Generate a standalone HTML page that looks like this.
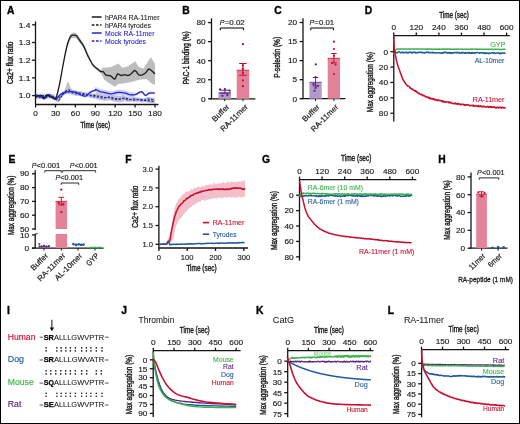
<!DOCTYPE html>
<html><head><meta charset="utf-8"><style>
html,body{margin:0;padding:0;background:#fff;}
svg{display:block;will-change:transform;}
text{font-family:"Liberation Sans", sans-serif;}
</style></head><body>
<svg width="520" height="424" viewBox="0 0 520 424">
<rect x="0" y="0" width="520" height="424" fill="#fff"/>
<text x="6.9" y="13.8" font-size="10.3" fill="#000" font-weight="bold" stroke="#000" stroke-width="0.35">A</text>
<polygon points="35.5,95.4 38,94.4 41,93.9 44,95.9 47,93.4 50,94.9 53,96.2 55.8,96.4 57.5,91.4 60,80.4 62.5,66.4 65,53.4 67.5,41.4 70,34.9 72,32.7 74.5,32.6 76.5,33.2 78.2,35.6 80.5,38.9 82.7,41.9 85,46.4 87.2,51.7 90.6,59.4 93,63.4 95,65.4 97.5,67.4 100.6,69.9 103.4,67.2 104.1,67.7 111.2,67 118.3,63.4 122.5,67.7 128.2,66.3 135.3,61.3 138.8,67 143.7,68.4 150.8,57.1 155,64.1 155,84.7 152.2,84 146.6,79 139.5,79.7 132.4,81.8 125.4,83.2 118.3,84 114.8,86.8 104.1,79.7 103.4,77.5 100.6,73.1 97.5,70.6 95,68.6 93,66.6 90.6,62.6 87.2,56.9 85,51.6 82.7,47.1 80.5,44.1 78.2,40.8 76.5,38.4 74.5,37.8 72,37.9 70,40.1 67.5,46.6 65,56.6 62.5,69.6 60,83.6 57.5,94.6 55.8,99.6 53,99.4 50,98.1 47,96.6 44,99.1 41,97.1 38,97.6 35.5,98.6" fill="#bdbdbd" fill-opacity="1.0" stroke="none"/>
<polygon points="35.2,95.7 35.9,95.36 36.91,94.86 38.02,94.4 39,94.2 39.78,94.45 40.49,94.98 41.2,95.5 42,95.7 42.93,95.36 43.94,94.7 44.98,94.04 46,93.7 47,93.85 48,94.29 49,94.81 50,95.2 51,95.33 51.99,95.35 52.99,95.42 54,95.7 55.05,96.45 56.12,97.51 57.16,98.44 58.1,98.8 58.91,98.38 59.62,97.44 60.3,96.29 61,95.2 61.72,94.21 62.44,93.17 63.19,92.11 64,90.96 64.91,89.32 65.89,86.63 66.87,83.38 67.8,81.45 68.62,81.91 69.39,83.91 70.16,86.3 71,88.19 71.92,89.2 72.89,89.67 73.91,89.95 75,90.2 76.18,90.45 77.44,90.7 78.73,90.95 80,91.2 81.25,91.45 82.5,91.7 83.75,91.95 85,92.2 86.25,92.46 87.5,92.73 88.75,92.99 90,93.2 91.25,93.35 92.5,93.45 93.75,93.55 95,93.7 96.25,92.41 97.5,92.67 98.75,92.94 100,93.2 101.25,93.49 102.5,93.79 103.75,94.06 105,94.2 106.25,94.13 107.5,93.92 108.75,93.72 110,93.7 111.25,93.96 112.5,94.39 113.75,94.85 115,95.2 116.25,95.43 117.5,95.61 118.75,95.7 120,95.7 121.25,95.5 122.5,95.14 123.75,94.81 125,96.2 126.25,96.42 127.5,96.86 128.75,97.34 130,97.7 131.25,97.92 132.5,98.08 133.75,98.17 135,98.2 136.25,98.11 137.5,97.92 138.75,97.74 140,97.7 141.25,97.86 142.5,98.14 143.75,98.45 145,98.7 146.25,98.86 147.51,98.98 148.76,99.09 150,99.2 151.33,99.34 152.71,99.48 153.94,99.61 154.8,99.7 154.8,103.3 153.94,103.21 152.71,103.08 151.33,102.94 150,102.8 148.76,102.69 147.51,102.58 146.25,102.46 145,102.3 143.75,102.05 142.5,101.74 141.25,101.46 140,101.3 138.75,101.34 137.5,101.52 136.25,101.71 135,101.8 133.75,101.77 132.5,101.67 131.25,101.52 130,101.3 128.75,100.94 127.5,100.46 126.25,100.02 125,99.8 123.75,101.41 122.5,101.74 121.25,102.1 120,102.3 118.75,102.3 117.5,102.21 116.25,102.03 115,101.8 113.75,101.45 112.5,100.99 111.25,100.56 110,100.3 108.75,100.32 107.5,100.52 106.25,100.73 105,100.8 103.75,100.66 102.5,100.39 101.25,100.09 100,99.8 98.75,99.54 97.5,99.27 96.25,99.01 95,97.3 93.75,97.15 92.5,97.05 91.25,96.95 90,96.8 88.75,96.59 87.5,96.33 86.25,96.06 85,95.8 83.75,95.55 82.5,95.3 81.25,95.05 80,94.8 78.73,94.55 77.44,94.3 76.18,94.05 75,93.8 73.91,93.56 72.89,93.32 71.92,93.07 71,92.8 70.16,92.39 69.39,91.88 68.62,91.51 67.8,91.5 66.87,91.99 65.89,92.82 64.91,93.82 64,94.8 63.19,95.76 62.44,96.78 61.72,97.81 61,98.8 60.3,99.89 59.62,101.04 58.91,101.98 58.1,102.4 57.16,102.04 56.12,101.11 55.05,100.05 54,99.3 52.99,99.02 51.99,98.95 51,98.93 50,98.8 49,98.41 48,97.89 47,97.45 46,97.3 44.98,97.64 43.94,98.3 42.93,98.96 42,99.3 41.2,99.1 40.49,98.58 39.78,98.05 39,97.8 38.02,98 36.91,98.46 35.9,98.96 35.2,99.3" fill="#c4c4c4" fill-opacity="1.0" stroke="none"/>
<polygon points="35.2,94 35.88,94.35 36.85,94.88 37.95,95.34 39,95.5 39.99,95.16 40.99,94.5 42,93.84 43,93.5 44,93.7 45,94.22 46,94.75 47,95 48,94.75 49,94.22 50,93.7 51,93.5 52.02,93.78 53.06,94.34 54.07,94.99 55,95.5 55.8,95.93 56.5,96.34 57.2,96.59 58,96.5 58.93,95.92 59.94,94.97 60.98,93.91 62,93 63,92.26 64,91.56 65,90.96 66,90.5 67,90.19 68,90 69,89.94 70,90 71,90.26 72,90.69 73,91.15 74,91.5 74.98,91.7 75.94,91.81 76.93,91.9 78,92 79.18,92.12 80.44,92.25 81.73,92.38 83,92.5 84.25,92.6 85.5,92.69 86.75,92.8 88,93 89.25,93.33 90.5,93.75 91.75,94.17 93,94.5 94.25,94.68 95.5,94.78 96.75,94.86 98,95 99.25,95.25 100.5,95.56 101.75,95.84 103,96 104.25,95.93 105.5,95.72 106.75,95.52 108,95.5 109.25,95.76 110.5,96.19 111.75,96.65 113,97 114.25,97.23 115.5,97.41 116.75,97.5 118,97.5 119.25,97.3 120.5,96.94 121.75,96.61 123,96.5 124.25,96.76 125.5,97.25 126.75,97.74 128,98 129.25,97.89 130.5,97.56 131.75,97.2 133,97 134.25,97.01 135.5,97.12 136.75,97.3 138,97.5 139.25,97.77 140.5,98.12 141.75,98.41 143,98.5 144.21,98.24 145.39,97.75 146.62,97.26 148,97 149.73,97.1 151.71,97.41 153.54,97.76 154.8,98 154.8,102 153.54,101.76 151.71,101.41 149.73,101.1 148,101 146.62,101.26 145.39,101.75 144.21,102.24 143,102.5 141.75,102.41 140.5,102.12 139.25,101.77 138,101.5 136.75,101.3 135.5,101.12 134.25,101.01 133,101 131.75,101.2 130.5,101.56 129.25,101.89 128,102 126.75,101.74 125.5,101.25 124.25,100.76 123,100.5 121.75,100.61 120.5,100.94 119.25,101.3 118,101.5 116.75,101.5 115.5,101.41 114.25,101.23 113,101 111.75,100.65 110.5,100.19 109.25,99.76 108,99.5 106.75,99.52 105.5,99.72 104.25,99.93 103,100 101.75,99.84 100.5,99.56 99.25,99.25 98,99 96.75,98.86 95.5,98.78 94.25,98.68 93,98.5 91.75,98.17 90.5,97.75 89.25,97.33 88,97 86.75,96.8 85.5,96.69 84.25,96.6 83,96.5 81.73,96.38 80.44,96.25 79.18,96.12 78,96 76.93,95.9 75.94,95.81 74.98,95.7 74,95.5 73,95.15 72,94.69 71,94.26 70,94 69,93.94 68,94 67,94.19 66,94.5 65,94.96 64,95.56 63,96.26 62,97 60.98,97.91 59.94,98.97 58.93,99.92 58,100.5 57.2,100.59 56.5,100.34 55.8,99.93 55,99.5 54.07,98.99 53.06,98.34 52.02,97.78 51,97.5 50,97.7 49,98.22 48,98.75 47,99 46,98.75 45,98.22 44,97.7 43,97.5 42,97.84 40.99,98.5 39.99,99.16 39,99.5 37.95,99.34 36.85,98.88 35.88,98.35 35.2,98" fill="#bcbcf2" fill-opacity="0.9" stroke="none"/>
<polygon points="35.2,93.6 35.7,93.71 36.41,93.86 37.22,94.05 38,94.3 38.72,94.61 39.45,94.99 40.2,95.39 41,95.8 41.85,96.34 42.74,96.99 43.66,97.46 44.6,97.5 45.59,96.8 46.62,95.58 47.62,94.35 48.5,93.6 49.19,93.49 49.75,93.75 50.31,94.23 51,94.8 51.9,95.61 52.91,96.67 53.95,97.62 54.9,98.1 55.73,97.94 56.51,97.34 57.25,96.56 58,95.8 58.73,95.07 59.43,94.27 60.17,93.48 61,92.8 61.91,92.24 62.88,91.75 63.96,91.34 65.2,91 66.7,90.72 68.39,90.51 70.12,90.39 71.7,90.4 73.09,90.57 74.39,90.88 75.62,91.27 76.8,91.7 77.9,92.19 78.92,92.76 79.93,93.33 81,93.8 82.17,94.26 83.4,94.71 84.63,94.99 85.8,94.9 86.88,94.27 87.89,93.25 88.91,92.12 90,91.2 91.27,90.53 92.66,89.96 93.95,89.49 94.9,89.1 95.31,87.26 95.34,86.99 95.35,86.85 95.7,86.9 96.53,87.24 97.64,87.81 98.86,88.42 100,88.9 100.97,89.17 101.87,89.34 102.87,89.49 104.1,89.7 105.66,90.07 107.46,90.54 109.35,90.93 111.2,91.1 112.98,90.9 114.75,90.44 116.53,89.97 118.3,89.7 120.14,89.71 122.03,89.87 123.83,90.12 125.4,90.4 126.62,90.75 127.59,91.19 128.51,91.61 129.6,91.9 130.91,92.07 132.32,92.17 133.8,92.14 135.3,93.4 136.9,92.73 138.58,91.72 140.2,90.84 141.6,90.5 142.68,91.08 143.53,92.26 144.32,93.46 145.2,94.1 146.18,93.91 147.19,93.22 148.25,92.43 149.4,91.9 150.79,91.75 152.36,91.76 153.8,91.85 154.8,91.9 154.8,94.3 153.8,94.25 152.36,94.16 150.79,94.15 149.4,94.3 148.25,94.83 147.19,95.62 146.18,96.31 145.2,96.5 144.32,95.86 143.53,94.66 142.68,93.48 141.6,92.9 140.2,93.24 138.58,94.12 136.9,95.13 135.3,95.8 133.8,97.54 132.32,97.57 130.91,97.47 129.6,97.3 128.51,97.01 127.59,96.59 126.62,96.15 125.4,95.8 123.83,95.52 122.03,95.27 120.14,95.11 118.3,95.1 116.53,95.37 114.75,95.84 112.98,96.3 111.2,96.5 109.35,96.33 107.46,95.94 105.66,95.47 104.1,95.1 102.87,94.89 101.87,94.74 100.97,94.57 100,94.3 98.86,93.82 97.64,93.21 96.53,92.64 95.7,92.3 95.35,92.25 95.34,92.39 95.31,92.66 94.9,91.5 93.95,91.89 92.66,92.36 91.27,92.93 90,93.6 88.91,94.52 87.89,95.65 86.88,96.67 85.8,97.3 84.63,97.39 83.4,97.11 82.17,96.66 81,96.2 79.93,95.73 78.92,95.16 77.9,94.59 76.8,94.1 75.62,93.67 74.39,93.28 73.09,92.97 71.7,92.8 70.12,92.79 68.39,92.91 66.7,93.12 65.2,93.4 63.96,93.74 62.88,94.15 61.91,94.64 61,95.2 60.17,95.88 59.43,96.67 58.73,97.47 58,98.2 57.25,98.96 56.51,99.74 55.73,100.34 54.9,100.5 53.95,100.02 52.91,99.07 51.9,98.01 51,97.2 50.31,96.63 49.75,96.15 49.19,95.89 48.5,96 47.62,96.75 46.62,97.98 45.59,99.2 44.6,99.9 43.66,99.86 42.74,99.39 41.85,98.74 41,98.2 40.2,97.79 39.45,97.39 38.72,97.01 38,96.7 37.22,96.45 36.41,96.26 35.7,96.11 35.2,96" fill="#c4c4f4" fill-opacity="0.8" stroke="none"/>
<polyline points="35.2,97.5 35.9,97.16 36.91,96.66 38.02,96.2 39,96 39.78,96.25 40.49,96.78 41.2,97.3 42,97.5 42.93,97.16 43.94,96.5 44.98,95.84 46,95.5 47,95.65 48,96.09 49,96.61 50,97 51,97.13 51.99,97.15 52.99,97.22 54,97.5 55.05,98.25 56.12,99.31 57.16,100.24 58.1,100.6 58.91,100.18 59.62,99.24 60.3,98.09 61,97 61.72,96.01 62.44,94.98 63.19,93.96 64,93 64.91,92.02 65.89,91.02 66.87,90.19 67.8,89.7 68.62,89.71 69.39,90.08 70.16,90.59 71,91 71.92,91.27 72.89,91.52 73.91,91.76 75,92 76.18,92.25 77.44,92.5 78.73,92.75 80,93 81.25,93.25 82.5,93.5 83.75,93.75 85,94 86.25,94.26 87.5,94.53 88.75,94.79 90,95 91.25,95.15 92.5,95.25 93.75,95.35 95,95.5 96.25,95.71 97.5,95.97 98.75,96.24 100,96.5 101.25,96.79 102.5,97.09 103.75,97.36 105,97.5 106.25,97.43 107.5,97.22 108.75,97.02 110,97 111.25,97.26 112.5,97.69 113.75,98.15 115,98.5 116.25,98.73 117.5,98.91 118.75,99 120,99 121.25,98.8 122.5,98.44 123.75,98.11 125,98 126.25,98.22 127.5,98.66 128.75,99.14 130,99.5 131.25,99.72 132.5,99.88 133.75,99.97 135,100 136.25,99.91 137.5,99.72 138.75,99.54 140,99.5 141.25,99.66 142.5,99.94 143.75,100.25 145,100.5 146.25,100.66 147.51,100.78 148.76,100.89 150,101 151.33,101.14 152.71,101.28 153.94,101.41 154.8,101.5" fill="none" stroke="#222" stroke-width="1.1" stroke-linejoin="round" stroke-dasharray="2.2,1.5"/>
<polyline points="35.2,96 35.88,96.35 36.85,96.88 37.95,97.34 39,97.5 39.99,97.16 40.99,96.5 42,95.84 43,95.5 44,95.7 45,96.22 46,96.75 47,97 48,96.75 49,96.22 50,95.7 51,95.5 52.02,95.78 53.06,96.34 54.07,96.99 55,97.5 55.8,97.93 56.5,98.34 57.2,98.59 58,98.5 58.93,97.92 59.94,96.97 60.98,95.91 62,95 63,94.26 64,93.56 65,92.96 66,92.5 67,92.19 68,92 69,91.94 70,92 71,92.26 72,92.69 73,93.15 74,93.5 74.98,93.7 75.94,93.81 76.93,93.9 78,94 79.18,94.12 80.44,94.25 81.73,94.38 83,94.5 84.25,94.6 85.5,94.69 86.75,94.8 88,95 89.25,95.33 90.5,95.75 91.75,96.17 93,96.5 94.25,96.68 95.5,96.78 96.75,96.86 98,97 99.25,97.25 100.5,97.56 101.75,97.84 103,98 104.25,97.93 105.5,97.72 106.75,97.52 108,97.5 109.25,97.76 110.5,98.19 111.75,98.65 113,99 114.25,99.23 115.5,99.41 116.75,99.5 118,99.5 119.25,99.3 120.5,98.94 121.75,98.61 123,98.5 124.25,98.76 125.5,99.25 126.75,99.74 128,100 129.25,99.89 130.5,99.56 131.75,99.2 133,99 134.25,99.01 135.5,99.12 136.75,99.3 138,99.5 139.25,99.77 140.5,100.12 141.75,100.41 143,100.5 144.21,100.24 145.39,99.75 146.62,99.26 148,99 149.73,99.1 151.71,99.41 153.54,99.76 154.8,100" fill="none" stroke="#2323d0" stroke-width="1.1" stroke-linejoin="round" stroke-dasharray="2.2,1.5"/>
<polyline points="35.2,94.8 35.7,94.91 36.41,95.06 37.22,95.25 38,95.5 38.72,95.81 39.45,96.19 40.2,96.59 41,97 41.85,97.54 42.74,98.19 43.66,98.66 44.6,98.7 45.59,98 46.62,96.78 47.62,95.55 48.5,94.8 49.19,94.69 49.75,94.95 50.31,95.43 51,96 51.9,96.81 52.91,97.87 53.95,98.82 54.9,99.3 55.73,99.14 56.51,98.54 57.25,97.76 58,97 58.73,96.27 59.43,95.47 60.17,94.68 61,94 61.91,93.44 62.88,92.95 63.96,92.54 65.2,92.2 66.7,91.92 68.39,91.71 70.12,91.59 71.7,91.6 73.09,91.77 74.39,92.08 75.62,92.47 76.8,92.9 77.9,93.39 78.92,93.96 79.93,94.53 81,95 82.17,95.46 83.4,95.91 84.63,96.19 85.8,96.1 86.88,95.47 87.89,94.45 88.91,93.32 90,92.4 91.27,91.73 92.66,91.16 93.95,90.69 94.9,90.3 95.31,89.96 95.34,89.69 95.35,89.55 95.7,89.6 96.53,89.94 97.64,90.51 98.86,91.12 100,91.6 100.97,91.87 101.87,92.04 102.87,92.19 104.1,92.4 105.66,92.77 107.46,93.24 109.35,93.63 111.2,93.8 112.98,93.6 114.75,93.14 116.53,92.67 118.3,92.4 120.14,92.41 122.03,92.57 123.83,92.82 125.4,93.1 126.62,93.45 127.59,93.89 128.51,94.31 129.6,94.6 130.91,94.77 132.32,94.87 133.8,94.84 135.3,94.6 136.9,93.93 138.58,92.92 140.2,92.04 141.6,91.7 142.68,92.28 143.53,93.46 144.32,94.66 145.2,95.3 146.18,95.11 147.19,94.42 148.25,93.63 149.4,93.1 150.79,92.95 152.36,92.96 153.8,93.05 154.8,93.1" fill="none" stroke="#2323d0" stroke-width="1.3" stroke-linejoin="round"/>
<polyline points="35.5,97 35.94,96.81 36.56,96.53 37.28,96.24 38,96 38.71,95.78 39.47,95.56 40.24,95.44 41,95.5 41.75,95.93 42.5,96.62 43.25,97.26 44,97.5 44.75,97.1 45.5,96.28 46.25,95.45 47,95 47.75,95.1 48.5,95.51 49.25,96.05 50,96.5 50.75,96.86 51.51,97.23 52.26,97.56 53,97.8 53.74,98.05 54.48,98.29 55.18,98.34 55.8,98 56.28,97.26 56.67,96.2 57.04,94.79 57.5,93 58.07,90.74 58.7,88.06 59.36,85.1 60,82 60.62,78.69 61.25,75.12 61.88,71.5 62.5,68 63.12,64.63 63.75,61.31 64.38,58.09 65,55 65.62,52 66.25,49.09 66.88,46.39 67.5,44 68.14,41.96 68.78,40.2 69.41,38.72 70,37.5 70.52,36.6 71,36 71.48,35.6 72,35.3 72.6,35.11 73.25,35.07 73.9,35.13 74.5,35.2 75.04,35.26 75.55,35.34 76.03,35.51 76.5,35.8 76.93,36.25 77.33,36.83 77.74,37.49 78.2,38.2 78.74,38.97 79.32,39.81 79.92,40.68 80.5,41.5 81.05,42.24 81.6,42.92 82.15,43.65 82.7,44.5 83.27,45.5 83.85,46.61 84.43,47.78 85,49 85.53,50.24 86.03,51.51 86.57,52.86 87.2,54.3 87.99,55.94 88.89,57.73 89.79,59.48 90.6,61 91.28,62.24 91.89,63.29 92.45,64.2 93,65 93.52,65.64 93.99,66.12 94.47,66.55 95,67 95.58,67.49 96.18,67.97 96.82,68.46 97.5,69 98.24,69.64 99.03,70.35 99.83,71.01 100.6,71.5 101.34,71.69 102.06,71.67 102.75,71.67 103.4,71.9 103.98,72.5 104.5,73.33 105.02,74.17 105.6,74.8 106.26,75.13 106.96,75.29 107.69,75.38 108.4,75.5 109.08,75.63 109.75,75.72 110.44,75.88 111.2,76.2 112.06,76.94 113,77.96 113.94,78.8 114.8,79 115.54,78.15 116.21,76.58 116.87,74.98 117.6,74 118.42,73.97 119.3,74.48 120.2,75.13 121.1,75.5 122,75.45 122.9,75.2 123.8,74.93 124.7,74.8 125.58,74.94 126.46,75.24 127.33,75.5 128.2,75.5 129.08,75.17 129.96,74.62 130.84,73.96 131.7,73.3 132.53,72.48 133.33,71.49 134.14,70.71 135,70.5 135.92,71.18 136.89,72.47 137.86,73.86 138.8,74.8 139.69,75.15 140.56,75.21 141.43,75.06 142.3,74.8 143.21,74.44 144.14,73.92 145.05,73.29 145.9,72.6 146.64,71.69 147.31,70.58 147.97,69.61 148.7,69.1 149.54,69.21 150.45,69.76 151.36,70.49 152.2,71.2 153.01,71.92 153.82,72.73 154.51,73.48 155,74" fill="none" stroke="#1a1a1a" stroke-width="1.3" stroke-linejoin="round"/>
<line x1="35.5" y1="21.5" x2="35.5" y2="104.5" stroke="#151515" stroke-width="1.3"/>
<line x1="32.1" y1="24.8" x2="35.5" y2="24.8" stroke="#151515" stroke-width="1.3"/>
<text transform="translate(30.5 27.6) scale(1.12 1)" font-size="7.6" fill="#1a1a1a" text-anchor="end" stroke="#1a1a1a" stroke-width="0.15">1.4</text>
<line x1="32.1" y1="42.5" x2="35.5" y2="42.5" stroke="#151515" stroke-width="1.3"/>
<text transform="translate(30.5 45.3) scale(1.12 1)" font-size="7.6" fill="#1a1a1a" text-anchor="end" stroke="#1a1a1a" stroke-width="0.15">1.3</text>
<line x1="32.1" y1="60.2" x2="35.5" y2="60.2" stroke="#151515" stroke-width="1.3"/>
<text transform="translate(30.5 63) scale(1.12 1)" font-size="7.6" fill="#1a1a1a" text-anchor="end" stroke="#1a1a1a" stroke-width="0.15">1.2</text>
<line x1="32.1" y1="77.9" x2="35.5" y2="77.9" stroke="#151515" stroke-width="1.3"/>
<text transform="translate(30.5 80.7) scale(1.12 1)" font-size="7.6" fill="#1a1a1a" text-anchor="end" stroke="#1a1a1a" stroke-width="0.15">1.1</text>
<line x1="32.1" y1="95.6" x2="35.5" y2="95.6" stroke="#151515" stroke-width="1.3"/>
<text transform="translate(30.5 98.4) scale(1.12 1)" font-size="7.6" fill="#1a1a1a" text-anchor="end" stroke="#1a1a1a" stroke-width="0.15">1.0</text>
<line x1="35.5" y1="104.5" x2="158.5" y2="104.5" stroke="#151515" stroke-width="1.3"/>
<line x1="35.6" y1="104.5" x2="35.6" y2="107.5" stroke="#151515" stroke-width="1.3"/>
<text transform="translate(35.6 116.2) scale(1.1 1)" font-size="7.5" fill="#1a1a1a" text-anchor="middle" stroke="#1a1a1a" stroke-width="0.15">0</text>
<line x1="55.5" y1="104.5" x2="55.5" y2="107.5" stroke="#151515" stroke-width="1.3"/>
<text transform="translate(55.5 116.2) scale(1.1 1)" font-size="7.5" fill="#1a1a1a" text-anchor="middle" stroke="#1a1a1a" stroke-width="0.15">30</text>
<line x1="75.4" y1="104.5" x2="75.4" y2="107.5" stroke="#151515" stroke-width="1.3"/>
<text transform="translate(75.4 116.2) scale(1.1 1)" font-size="7.5" fill="#1a1a1a" text-anchor="middle" stroke="#1a1a1a" stroke-width="0.15">60</text>
<line x1="95.3" y1="104.5" x2="95.3" y2="107.5" stroke="#151515" stroke-width="1.3"/>
<text transform="translate(95.3 116.2) scale(1.1 1)" font-size="7.5" fill="#1a1a1a" text-anchor="middle" stroke="#1a1a1a" stroke-width="0.15">90</text>
<line x1="115.2" y1="104.5" x2="115.2" y2="107.5" stroke="#151515" stroke-width="1.3"/>
<text transform="translate(115.2 116.2) scale(1.1 1)" font-size="7.5" fill="#1a1a1a" text-anchor="middle" stroke="#1a1a1a" stroke-width="0.15">120</text>
<line x1="135.09" y1="104.5" x2="135.09" y2="107.5" stroke="#151515" stroke-width="1.3"/>
<text transform="translate(135.09 116.2) scale(1.1 1)" font-size="7.5" fill="#1a1a1a" text-anchor="middle" stroke="#1a1a1a" stroke-width="0.15">150</text>
<line x1="154.99" y1="104.5" x2="154.99" y2="107.5" stroke="#151515" stroke-width="1.3"/>
<text transform="translate(154.99 116.2) scale(1.1 1)" font-size="7.5" fill="#1a1a1a" text-anchor="middle" stroke="#1a1a1a" stroke-width="0.15">180</text>
<text x="95.2" y="127.7" font-size="8.6" fill="#1a1a1a" text-anchor="middle" stroke="#1a1a1a" stroke-width="0.4" textLength="29.6" lengthAdjust="spacingAndGlyphs">Time (sec)</text>
<text transform="translate(12.9 62.8) rotate(-90)" font-size="8.6" fill="#1a1a1a" text-anchor="middle" stroke="#1a1a1a" stroke-width="0.4" textLength="42.5" lengthAdjust="spacingAndGlyphs">Ca2+ flux ratio</text>
<line x1="91.8" y1="17" x2="101.6" y2="17" stroke="#1a1a1a" stroke-width="1.5"/>
<text x="105" y="19.5" font-size="7.7" fill="#222" stroke="#222" stroke-width="0.1" textLength="54.5" lengthAdjust="spacingAndGlyphs">hPAR4 RA-11mer</text>
<line x1="91.8" y1="25" x2="101.6" y2="25" stroke="#1a1a1a" stroke-width="1.5" stroke-dasharray="2.6,1.6"/>
<text x="105" y="27.5" font-size="7.7" fill="#222" stroke="#222" stroke-width="0.1" textLength="46" lengthAdjust="spacingAndGlyphs">hPAR4 tyrodes</text>
<line x1="91.8" y1="33" x2="101.6" y2="33" stroke="#2323d0" stroke-width="1.5"/>
<text x="105" y="35.5" font-size="7.7" fill="#2323d0" stroke="#2323d0" stroke-width="0.1" textLength="49.5" lengthAdjust="spacingAndGlyphs">Mock RA-11mer</text>
<line x1="91.8" y1="41" x2="101.6" y2="41" stroke="#2323d0" stroke-width="1.5" stroke-dasharray="2.6,1.6"/>
<text x="105" y="43.5" font-size="7.7" fill="#2323d0" stroke="#2323d0" stroke-width="0.1" textLength="41" lengthAdjust="spacingAndGlyphs">Mock tyrodes</text>
<text x="182.3" y="14.4" font-size="10.3" fill="#000" font-weight="bold" stroke="#000" stroke-width="0.35">B</text>
<line x1="211.5" y1="18.3" x2="211.5" y2="98.8" stroke="#151515" stroke-width="1.3"/>
<line x1="208.1" y1="22.6" x2="211.5" y2="22.6" stroke="#151515" stroke-width="1.3"/>
<text transform="translate(205.7 25.4) scale(1.1 1)" font-size="7.5" fill="#1a1a1a" text-anchor="end" stroke="#1a1a1a" stroke-width="0.15">80</text>
<line x1="208.1" y1="41.65" x2="211.5" y2="41.65" stroke="#151515" stroke-width="1.3"/>
<text transform="translate(205.7 44.45) scale(1.1 1)" font-size="7.5" fill="#1a1a1a" text-anchor="end" stroke="#1a1a1a" stroke-width="0.15">60</text>
<line x1="208.1" y1="60.7" x2="211.5" y2="60.7" stroke="#151515" stroke-width="1.3"/>
<text transform="translate(205.7 63.5) scale(1.1 1)" font-size="7.5" fill="#1a1a1a" text-anchor="end" stroke="#1a1a1a" stroke-width="0.15">40</text>
<line x1="208.1" y1="79.75" x2="211.5" y2="79.75" stroke="#151515" stroke-width="1.3"/>
<text transform="translate(205.7 82.55) scale(1.1 1)" font-size="7.5" fill="#1a1a1a" text-anchor="end" stroke="#1a1a1a" stroke-width="0.15">20</text>
<line x1="208.1" y1="98.8" x2="211.5" y2="98.8" stroke="#151515" stroke-width="1.3"/>
<text transform="translate(205.7 101.6) scale(1.1 1)" font-size="7.5" fill="#1a1a1a" text-anchor="end" stroke="#1a1a1a" stroke-width="0.15">0</text>
<line x1="209.6" y1="98.8" x2="255.4" y2="98.8" stroke="#151515" stroke-width="1.2"/>
<line x1="224.7" y1="98.8" x2="224.7" y2="101.2" stroke="#151515" stroke-width="1.0"/>
<line x1="243" y1="98.8" x2="243" y2="101.2" stroke="#151515" stroke-width="1.0"/>
<rect x="218.5" y="92.8" width="12.5" height="6" fill="#b39ac9" stroke="none" stroke-width="0"/>
<line x1="218.5" y1="92.8" x2="231" y2="92.8" stroke="#5e2384" stroke-width="0.8"/>
<rect x="236.7" y="70.22" width="12.5" height="28.58" fill="#e2839a" stroke="none" stroke-width="0"/>
<line x1="236.7" y1="70.22" x2="249.2" y2="70.22" stroke="#c8102e" stroke-width="0.8"/>
<line x1="242.9" y1="63.5" x2="242.9" y2="75.3" stroke="#c8102e" stroke-width="1.0"/>
<line x1="239.15" y1="63.5" x2="246.65" y2="63.5" stroke="#c8102e" stroke-width="1.0"/>
<line x1="239.15" y1="75.3" x2="246.65" y2="75.3" stroke="#c8102e" stroke-width="1.0"/>
<circle cx="242.9" cy="44.2" r="1.15" fill="#c8102e"/>
<circle cx="242.9" cy="65.4" r="1.15" fill="#c8102e"/>
<circle cx="242.9" cy="68.9" r="1.15" fill="#c8102e"/>
<circle cx="242.9" cy="72.9" r="1.15" fill="#c8102e"/>
<circle cx="242.9" cy="80.3" r="1.15" fill="#c8102e"/>
<circle cx="242.9" cy="86.2" r="1.15" fill="#c8102e"/>
<line x1="224.9" y1="90.2" x2="224.9" y2="93.2" stroke="#5e2384" stroke-width="1.0"/>
<line x1="220.15" y1="90.2" x2="229.65" y2="90.2" stroke="#5e2384" stroke-width="1.0"/>
<line x1="220.15" y1="93.2" x2="229.65" y2="93.2" stroke="#5e2384" stroke-width="1.0"/>
<circle cx="220.1" cy="89.5" r="1.15" fill="#5e2384"/>
<circle cx="224.9" cy="89.2" r="1.15" fill="#5e2384"/>
<circle cx="229.6" cy="90.7" r="1.15" fill="#5e2384"/>
<circle cx="222.4" cy="95.8" r="1.15" fill="#5e2384"/>
<circle cx="227.4" cy="95.1" r="1.15" fill="#5e2384"/>
<text x="219.8" y="25" font-size="7.8" fill="#1a1a1a" font-style="italic" stroke="#1a1a1a" stroke-width="0.15" textLength="4.7" lengthAdjust="spacingAndGlyphs">P</text>
<text x="224.7" y="25" font-size="7.8" fill="#1a1a1a" stroke="#1a1a1a" stroke-width="0.15" textLength="20.1" lengthAdjust="spacingAndGlyphs">=0.02</text>
<line x1="220.4" y1="28" x2="243.5" y2="28" stroke="#151515" stroke-width="1.1"/>
<line x1="220.4" y1="28" x2="220.4" y2="30.2" stroke="#151515" stroke-width="1.1"/>
<line x1="243.5" y1="28" x2="243.5" y2="30.2" stroke="#151515" stroke-width="1.1"/>
<text transform="translate(189.1 57.8) rotate(-90)" font-size="8.8" fill="#1a1a1a" text-anchor="middle" stroke="#1a1a1a" stroke-width="0.4" textLength="53" lengthAdjust="spacingAndGlyphs">PAC-1 binding (%)</text>
<text transform="translate(229.9 107.3) rotate(-45)" font-size="7.8" fill="#1a1a1a" text-anchor="end" stroke="#1a1a1a" stroke-width="0.2" textLength="21" lengthAdjust="spacingAndGlyphs">Buffer</text>
<text transform="translate(248.3 107.3) rotate(-45)" font-size="7.8" fill="#1a1a1a" text-anchor="end" stroke="#1a1a1a" stroke-width="0.2" textLength="35" lengthAdjust="spacingAndGlyphs">RA-11mer</text>
<text x="274.2" y="14.4" font-size="10.3" fill="#000" font-weight="bold" stroke="#000" stroke-width="0.35">C</text>
<line x1="303" y1="18.3" x2="303" y2="98.7" stroke="#151515" stroke-width="1.3"/>
<line x1="299.6" y1="22.5" x2="303" y2="22.5" stroke="#151515" stroke-width="1.3"/>
<text transform="translate(297.2 25.3) scale(1.1 1)" font-size="7.5" fill="#1a1a1a" text-anchor="end" stroke="#1a1a1a" stroke-width="0.15">20</text>
<line x1="299.6" y1="41.55" x2="303" y2="41.55" stroke="#151515" stroke-width="1.3"/>
<text transform="translate(297.2 44.35) scale(1.1 1)" font-size="7.5" fill="#1a1a1a" text-anchor="end" stroke="#1a1a1a" stroke-width="0.15">15</text>
<line x1="299.6" y1="60.6" x2="303" y2="60.6" stroke="#151515" stroke-width="1.3"/>
<text transform="translate(297.2 63.4) scale(1.1 1)" font-size="7.5" fill="#1a1a1a" text-anchor="end" stroke="#1a1a1a" stroke-width="0.15">10</text>
<line x1="299.6" y1="79.65" x2="303" y2="79.65" stroke="#151515" stroke-width="1.3"/>
<text transform="translate(297.2 82.45) scale(1.1 1)" font-size="7.5" fill="#1a1a1a" text-anchor="end" stroke="#1a1a1a" stroke-width="0.15">5</text>
<line x1="299.6" y1="98.7" x2="303" y2="98.7" stroke="#151515" stroke-width="1.3"/>
<text transform="translate(297.2 101.5) scale(1.1 1)" font-size="7.5" fill="#1a1a1a" text-anchor="end" stroke="#1a1a1a" stroke-width="0.15">0</text>
<line x1="301" y1="98.7" x2="345.4" y2="98.7" stroke="#151515" stroke-width="1.2"/>
<line x1="315.6" y1="98.7" x2="315.6" y2="101.1" stroke="#151515" stroke-width="1.0"/>
<line x1="333.9" y1="98.7" x2="333.9" y2="101.1" stroke="#151515" stroke-width="1.0"/>
<rect x="309.4" y="82.32" width="12.3" height="16.38" fill="#b39ac9" stroke="none" stroke-width="0"/>
<line x1="309.4" y1="82.32" x2="321.7" y2="82.32" stroke="#5e2384" stroke-width="0.8"/>
<rect x="327.7" y="58.31" width="12.3" height="40.39" fill="#e2839a" stroke="none" stroke-width="0"/>
<line x1="327.7" y1="58.31" x2="340" y2="58.31" stroke="#c8102e" stroke-width="0.8"/>
<line x1="315.6" y1="77.5" x2="315.6" y2="86" stroke="#5e2384" stroke-width="1.0"/>
<line x1="312.8" y1="77.5" x2="318.4" y2="77.5" stroke="#5e2384" stroke-width="1.0"/>
<line x1="312.8" y1="86" x2="318.4" y2="86" stroke="#5e2384" stroke-width="1.0"/>
<circle cx="315.8" cy="64.4" r="1.1" fill="#5e2384"/>
<circle cx="315.6" cy="77" r="1.1" fill="#5e2384"/>
<circle cx="313.5" cy="84.2" r="1.1" fill="#5e2384"/>
<circle cx="318" cy="86" r="1.1" fill="#5e2384"/>
<circle cx="315.6" cy="87.9" r="1.1" fill="#5e2384"/>
<circle cx="314.5" cy="90.8" r="1.1" fill="#5e2384"/>
<line x1="333.9" y1="53.5" x2="333.9" y2="62.9" stroke="#c8102e" stroke-width="1.0"/>
<line x1="331.1" y1="53.5" x2="336.7" y2="53.5" stroke="#c8102e" stroke-width="1.0"/>
<line x1="331.1" y1="62.9" x2="336.7" y2="62.9" stroke="#c8102e" stroke-width="1.0"/>
<circle cx="333.9" cy="41.7" r="1.1" fill="#c8102e"/>
<circle cx="333.9" cy="49" r="1.1" fill="#c8102e"/>
<circle cx="333.9" cy="55.8" r="1.1" fill="#c8102e"/>
<circle cx="332" cy="63" r="1.1" fill="#c8102e"/>
<circle cx="335.5" cy="64.5" r="1.1" fill="#c8102e"/>
<circle cx="333.9" cy="74" r="1.1" fill="#c8102e"/>
<text x="309.4" y="25" font-size="7.8" fill="#1a1a1a" font-style="italic" stroke="#1a1a1a" stroke-width="0.15" textLength="4.7" lengthAdjust="spacingAndGlyphs">P</text>
<text x="314.3" y="25" font-size="7.8" fill="#1a1a1a" stroke="#1a1a1a" stroke-width="0.15" textLength="19.9" lengthAdjust="spacingAndGlyphs">=0.01</text>
<line x1="310.8" y1="28" x2="333.5" y2="28" stroke="#151515" stroke-width="1.1"/>
<line x1="310.8" y1="28" x2="310.8" y2="30.2" stroke="#151515" stroke-width="1.1"/>
<line x1="333.5" y1="28" x2="333.5" y2="30.2" stroke="#151515" stroke-width="1.1"/>
<text transform="translate(280 57.3) rotate(-90)" font-size="8.8" fill="#1a1a1a" text-anchor="middle" stroke="#1a1a1a" stroke-width="0.4" textLength="40.8" lengthAdjust="spacingAndGlyphs">P-selectin (%)</text>
<text transform="translate(320.2 107.5) rotate(-45)" font-size="7.8" fill="#1a1a1a" text-anchor="end" stroke="#1a1a1a" stroke-width="0.2" textLength="21" lengthAdjust="spacingAndGlyphs">Buffer</text>
<text transform="translate(338.8 107.5) rotate(-45)" font-size="7.8" fill="#1a1a1a" text-anchor="end" stroke="#1a1a1a" stroke-width="0.2" textLength="35" lengthAdjust="spacingAndGlyphs">RA-11mer</text>
<text x="364.8" y="14.4" font-size="10.3" fill="#000" font-weight="bold" stroke="#000" stroke-width="0.35">D</text>
<line x1="393.7" y1="35.6" x2="509.8" y2="35.6" stroke="#151515" stroke-width="1.3"/>
<line x1="393.7" y1="32.6" x2="393.7" y2="35.6" stroke="#151515" stroke-width="1.3"/>
<text transform="translate(393.7 30) scale(1.1 1)" font-size="7.5" fill="#1a1a1a" text-anchor="middle" stroke="#1a1a1a" stroke-width="0.15">0</text>
<line x1="416.28" y1="32.6" x2="416.28" y2="35.6" stroke="#151515" stroke-width="1.3"/>
<text transform="translate(416.28 30) scale(1.1 1)" font-size="7.5" fill="#1a1a1a" text-anchor="middle" stroke="#1a1a1a" stroke-width="0.15">120</text>
<line x1="438.86" y1="32.6" x2="438.86" y2="35.6" stroke="#151515" stroke-width="1.3"/>
<text transform="translate(438.86 30) scale(1.1 1)" font-size="7.5" fill="#1a1a1a" text-anchor="middle" stroke="#1a1a1a" stroke-width="0.15">240</text>
<line x1="461.44" y1="32.6" x2="461.44" y2="35.6" stroke="#151515" stroke-width="1.3"/>
<text transform="translate(461.44 30) scale(1.1 1)" font-size="7.5" fill="#1a1a1a" text-anchor="middle" stroke="#1a1a1a" stroke-width="0.15">360</text>
<line x1="484.02" y1="32.6" x2="484.02" y2="35.6" stroke="#151515" stroke-width="1.3"/>
<text transform="translate(484.02 30) scale(1.1 1)" font-size="7.5" fill="#1a1a1a" text-anchor="middle" stroke="#1a1a1a" stroke-width="0.15">480</text>
<line x1="506.6" y1="32.6" x2="506.6" y2="35.6" stroke="#151515" stroke-width="1.3"/>
<text transform="translate(506.6 30) scale(1.1 1)" font-size="7.5" fill="#1a1a1a" text-anchor="middle" stroke="#1a1a1a" stroke-width="0.15">600</text>
<line x1="393.8" y1="35.6" x2="393.8" y2="121.5" stroke="#151515" stroke-width="1.3"/>
<line x1="390.4" y1="51.7" x2="393.8" y2="51.7" stroke="#151515" stroke-width="1.3"/>
<text transform="translate(388 54.5) scale(1.1 1)" font-size="7.5" fill="#1a1a1a" text-anchor="end" stroke="#1a1a1a" stroke-width="0.15">0</text>
<line x1="390.4" y1="67.08" x2="393.8" y2="67.08" stroke="#151515" stroke-width="1.3"/>
<text transform="translate(388 69.88) scale(1.1 1)" font-size="7.5" fill="#1a1a1a" text-anchor="end" stroke="#1a1a1a" stroke-width="0.15">20</text>
<line x1="390.4" y1="82.46" x2="393.8" y2="82.46" stroke="#151515" stroke-width="1.3"/>
<text transform="translate(388 85.26) scale(1.1 1)" font-size="7.5" fill="#1a1a1a" text-anchor="end" stroke="#1a1a1a" stroke-width="0.15">40</text>
<line x1="390.4" y1="97.84" x2="393.8" y2="97.84" stroke="#151515" stroke-width="1.3"/>
<text transform="translate(388 100.64) scale(1.1 1)" font-size="7.5" fill="#1a1a1a" text-anchor="end" stroke="#1a1a1a" stroke-width="0.15">60</text>
<line x1="390.4" y1="113.22" x2="393.8" y2="113.22" stroke="#151515" stroke-width="1.3"/>
<text transform="translate(388 116.02) scale(1.1 1)" font-size="7.5" fill="#1a1a1a" text-anchor="end" stroke="#1a1a1a" stroke-width="0.15">80</text>
<text x="454" y="18.4" font-size="8.6" fill="#1a1a1a" text-anchor="middle" stroke="#1a1a1a" stroke-width="0.4" textLength="29.6" lengthAdjust="spacingAndGlyphs">Time (sec)</text>
<text transform="translate(373.4 82.2) rotate(-90)" font-size="8.8" fill="#1a1a1a" text-anchor="middle" stroke="#1a1a1a" stroke-width="0.4" textLength="60" lengthAdjust="spacingAndGlyphs">Max aggregation (%)</text>
<polyline points="393.8,52.5 394.5,54 395.5,50 397,49 397.5,48.95 398.1,48.9 398.7,49.05 399.3,48.88 399.9,49.02 400.5,48.97 401.1,48.88 401.7,49.02 402.3,48.88 402.9,49 403.5,48.89 404.1,48.9 404.7,49 405.3,49.12 405.9,48.91 406.5,48.95 407.1,49.07 407.7,49.17 408.3,49.06 408.9,49 409.5,49.18 410.1,48.9 410.7,49.15 411.3,48.98 411.9,48.94 412.5,48.93 413.1,48.99 413.7,49.14 414.3,48.96 414.9,49.08 415.5,49.1 416.1,49.02 416.7,49.07 417.3,48.93 417.9,48.93 418.5,48.98 419.1,49.12 419.7,49.05 420.3,49.01 420.9,49.1 421.5,49.06 422.1,49.02 422.7,49.17 423.3,49.14 423.9,49 424.5,49.1 425.1,49.09 425.7,49.2 426.3,49.16 426.9,49.03 427.5,49.24 428.1,48.98 428.7,49.07 429.3,49.17 429.9,48.99 430.5,49.1 431.1,48.96 431.7,49.15 432.3,49.19 432.9,49.13 433.5,49.22 434.1,49.06 434.7,49.17 435.3,49.14 435.9,49.14 436.5,49.11 437.1,49.22 437.7,49.26 438.3,49.12 438.9,49.17 439.5,49 440.1,49.19 440.7,49.18 441.3,49.28 441.9,49.23 442.5,49.07 443.1,49.1 443.7,49.19 444.3,49 444.9,49.13 445.5,49.05 446.1,49.03 446.7,49.02 447.3,49.23 447.9,49.04 448.5,49.08 449.1,49.12 449.7,49.27 450.3,49.03 450.9,49.15 451.5,49.18 452.1,49.28 452.7,49.26 453.3,49.28 453.9,49.1 454.5,49.15 455.1,49.13 455.7,49.29 456.3,49.32 456.9,49.07 457.5,49.08 458.1,49.1 458.7,49.11 459.3,49.18 459.9,49.22 460.5,49.12 461.1,49.04 461.7,49.17 462.3,49.16 462.9,49.22 463.5,49.34 464.1,49.26 464.7,49.21 465.3,49.24 465.9,49.26 466.5,49.07 467.1,49.33 467.7,49.3 468.3,49.33 468.9,49.31 469.5,49.19 470.1,49.19 470.7,49.1 471.3,49.26 471.9,49.09 472.5,49.1 473.1,49.14 473.7,49.13 474.3,49.18 474.9,49.1 475.5,49.09 476.1,49.13 476.7,49.12 477.3,49.2 477.9,49.1 478.5,49.36 479.1,49.28 479.7,49.14 480.3,49.18 480.9,49.21 481.5,49.21 482.1,49.14 482.7,49.36 483.3,49.41 483.9,49.25 484.5,49.26 485.1,49.14 485.7,49.15 486.3,49.22 486.9,49.2 487.5,49.37 488.1,49.17 488.7,49.13 489.3,49.41 489.9,49.29 490.5,49.17 491.1,49.3 491.7,49.14 492.3,49.29 492.9,49.43 493.5,49.4 494.1,49.35 494.7,49.22 495.3,49.25 495.9,49.2 496.5,49.38 497.1,49.31 497.7,49.39 498.3,49.25 498.9,49.22 499.5,49.4 500.1,49.45 500.7,49.42 501.3,49.4 501.9,49.41 502.5,49.39 503.1,49.24 503.7,49.33 504.3,49.28 504.9,49.18 505.5,49.18" fill="none" stroke="#3bb34a" stroke-width="1.5" stroke-linejoin="round"/>
<polyline points="393.8,52.2 394.3,52.06 394.75,52.04 395.2,52.52 395.65,52.82 396.1,52.26 396.55,52.8 397,52.86 397.45,52.83 397.9,52.18 398.35,52.03 398.8,52.04 399.25,52.01 399.7,52.02 400.15,52.49 400.6,52.8 401.05,52.73 401.5,52.34 401.95,52.54 402.4,52.7 402.85,51.92 403.3,52.56 403.75,52.83 404.2,52.7 404.65,52.67 405.1,52.37 405.55,52.04 406,52.72 406.45,52.22 406.9,52.74 407.35,52.93 407.8,52.3 408.25,52.31 408.7,52.92 409.15,52.68 409.6,52.07 410.05,52.03 410.5,52.06 410.95,52.89 411.4,52.79 411.85,52.06 412.3,52.81 412.75,52.99 413.2,52.64 413.65,52.3 414.1,52.52 414.55,52.07 415,51.94 415.45,53 415.9,52.65 416.35,52.52 416.8,52.97 417.25,52.42 417.7,52.91 418.15,52.86 418.6,52.19 419.05,52.24 419.5,52.29 419.95,52.24 420.4,52.62 420.85,52.26 421.3,52.44 421.75,52.13 422.2,52.99 422.65,52.38 423.1,52.5 423.55,52.64 424,53 424.45,52.47 424.9,53.02 425.35,52.57 425.8,52.61 426.25,52.6 426.7,52.05 427.15,52.52 427.6,52.24 428.05,52.04 428.5,52.92 428.95,52.24 429.4,52.57 429.85,52.85 430.3,52.67 430.75,52.42 431.2,52.64 431.65,52.68 432.1,52.94 432.55,52.19 433,52.7 433.45,52.36 433.9,52.39 434.35,52.94 434.8,52.66 435.25,52.72 435.7,52.94 436.15,53.11 436.6,52.6 437.05,52.79 437.5,52.68 437.95,52.69 438.4,52.89 438.85,52.63 439.3,52.72 439.75,52.66 440.2,53.18 440.65,52.92 441.1,53.11 441.55,53.19 442,52.44 442.45,52.78 442.9,53.2 443.35,53.09 443.8,52.32 444.25,52.31 444.7,52.67 445.15,52.26 445.6,52.45 446.05,52.27 446.5,52.93 446.95,53.06 447.4,53.19 447.85,52.38 448.3,53 448.75,52.94 449.2,52.38 449.65,53.19 450.1,53.29 450.55,52.47 451,53.28 451.45,52.68 451.9,52.78 452.35,53.33 452.8,53.17 453.25,52.43 453.7,52.73 454.15,52.83 454.6,52.64 455.05,52.48 455.5,52.62 455.95,53.07 456.4,52.3 456.85,52.89 457.3,52.77 457.75,52.31 458.2,52.66 458.65,52.99 459.1,52.87 459.55,52.38 460,53.39 460.45,53.18 460.9,53.39 461.35,52.44 461.8,52.62 462.25,52.37 462.7,53.19 463.15,52.64 463.6,52.48 464.05,52.81 464.5,53.35 464.95,53.25 465.4,52.64 465.85,52.53 466.3,53.38 466.75,53 467.2,53.14 467.65,52.47 468.1,52.44 468.55,53.14 469,52.86 469.45,52.47 469.9,53.43 470.35,53.1 470.8,53.28 471.25,52.5 471.7,53.35 472.15,52.49 472.6,53.37 473.05,52.92 473.5,52.8 473.95,53.04 474.4,53.45 474.85,52.73 475.3,52.58 475.75,53.02 476.2,52.71 476.65,52.57 477.1,52.63 477.55,52.52 478,52.69 478.45,52.81 478.9,52.81 479.35,53.31 479.8,52.8 480.25,53.03 480.7,52.68 481.15,52.87 481.6,52.51 482.05,52.77 482.5,52.52 482.95,53.31 483.4,53.12 483.85,52.72 484.3,53.04 484.75,53.55 485.2,52.64 485.65,53.43 486.1,53.01 486.55,53.08 487,53.46 487.45,52.98 487.9,53.11 488.35,53.31 488.8,53.64 489.25,52.94 489.7,53.48 490.15,53.34 490.6,53.27 491.05,53.02 491.5,52.96 491.95,52.64 492.4,52.73 492.85,52.67 493.3,53.41 493.75,52.88 494.2,52.78 494.65,52.7 495.1,53.53 495.55,53.57 496,53.35 496.45,52.93 496.9,52.89 497.35,52.95 497.8,53.14 498.25,52.81 498.7,53.13 499.15,52.93 499.6,53.71 500.05,53.72 500.5,53.26 500.95,52.93 501.4,53.73 501.85,53.01 502.3,53.06 502.75,52.68 503.2,53.1 503.65,53.2 504.1,53.24 504.55,52.91 505,53.25 505.45,52.7" fill="none" stroke="#1f5a9a" stroke-width="1.4" stroke-linejoin="round"/>
<polyline points="393.6,35.8 394,44 394.4,50.54 394.8,52.31 395.2,54.65 395.6,56.2 396,58.04 396.4,60.1 396.8,61.62 397.2,63.45 397.6,64.71 398,66.21 398.4,67.31 398.8,68.54 399.2,69.85 399.6,70.41 400,71.43 400.4,73.23 400.8,73.4 401.2,75.12 401.6,76.1 402,76.48 402.4,78.33 402.8,79.29 403.2,79.83 403.6,80.69 404,81.47 404.4,81.37 404.8,82.4 405.2,82.93 405.6,83.81 406,84.28 406.4,84.76 406.8,84.93 407.2,85.69 407.6,85.86 408,86.25 408.4,86.11 408.8,86.24 409.2,86.69 409.6,87.26 410,87.29 410.4,88.38 410.8,88.37 411.2,88.72 411.6,88.99 412,89.31 412.4,89.35 412.8,89.07 413.2,90.19 413.6,90.38 414,90.36 414.4,90.64 414.8,91.01 415.2,90.6 415.6,91.58 416,91.29 416.4,91.34 416.8,91.79 417.2,92.54 417.6,92.21 418,93.03 418.4,93.53 418.8,93.23 419.2,93.34 419.6,93.68 420,94.13 420.4,94.44 420.8,94.5 421.2,94.73 421.6,94.32 422,94.61 422.4,94.92 422.8,95.65 423.2,95.36 423.6,95.83 424,95.4 424.4,95.63 424.8,96.03 425.2,96.63 425.6,96.81 426,96.95 426.4,96.68 426.8,97.07 427.2,97.16 427.6,97.3 428,97.06 428.4,98.05 428.8,97.42 429.2,98.41 429.6,98.49 430,97.61 430.4,98.22 430.8,98.74 431.2,99.02 431.6,98.57 432,98.49 432.4,98.54 432.8,99.46 433.2,98.77 433.6,99.29 434,98.92 434.4,99.45 434.8,100.03 435.2,99.23 435.6,100.09 436,99.86 436.4,100.38 436.8,100.27 437.2,99.85 437.6,100.68 438,100.32 438.4,99.91 438.8,99.97 439.2,100.6 439.6,100.64 440,100.56 440.4,100.46 440.8,100.77 441.2,100.81 441.6,101.47 442,100.62 442.4,101.52 442.8,101.69 443.2,100.97 443.6,101.93 444,101.77 444.4,102.05 444.8,101.45 445.2,101.61 445.6,101.71 446,102.44 446.4,102.06 446.8,101.88 447.2,102.03 447.6,101.93 448,101.76 448.4,101.89 448.8,102.77 449.2,102.24 449.6,103.02 450,102.34 450.4,102.43 450.8,102.77 451.2,102.48 451.6,102.75 452,103.46 452.4,103.45 452.8,103.44 453.2,103.31 453.6,103.69 454,103.78 454.4,103.42 454.8,103.67 455.2,103 455.6,103.81 456,103.57 456.4,103.96 456.8,103.9 457.2,103.57 457.6,103.37 458,104.39 458.4,103.57 458.8,104.01 459.2,103.93 459.6,103.93 460,104.47 460.4,104.79 460.8,104.06 461.2,104.55 461.6,104.21 462,104.55 462.4,104.42 462.8,104.22 463.2,104.27 463.6,104.37 464,105.19 464.4,104.79 464.8,104.53 465.2,105.33 465.6,105.48 466,104.93 466.4,104.63 466.8,104.73 467.2,104.67 467.6,104.99 468,104.76 468.4,104.96 468.8,105.03 469.2,105.41 469.6,105.8 470,105.69 470.4,105.36 470.8,105.41 471.2,105.56 471.6,105.44 472,105.44 472.4,105.17 472.8,105.44 473.2,106.23 473.6,105.34 474,105.79 474.4,105.96 474.8,106.25 475.2,105.57 475.6,105.66 476,105.66 476.4,105.86 476.8,105.94 477.2,106.53 477.6,106.44 478,106.5 478.4,105.59 478.8,105.63 479.2,106.4 479.6,106.64 480,106.2 480.4,106.35 480.8,105.74 481.2,106.2 481.6,106.82 482,106.74 482.4,106.8 482.8,106.96 483.2,106.2 483.6,106.07 484,106.16 484.4,106.59 484.8,106.8 485.2,107.12 485.6,106.91 486,106.86 486.4,107.03 486.8,106.72 487.2,106.86 487.6,106.33 488,107.18 488.4,106.6 488.8,107.39 489.2,107.12 489.6,106.78 490,106.62 490.4,106.78 490.8,107.24 491.2,107.34 491.6,106.72 492,106.7 492.4,107.23 492.8,107.32 493.2,107.13 493.6,106.98 494,107.42 494.4,106.79 494.8,107.13 495.2,107.33 495.6,107.9 496,107.57 496.4,107.86 496.8,107.43 497.2,107.18 497.6,107.21 498,108.01 498.4,107.75 498.8,107.33 499.2,107.03 499.6,107.57 500,107.78 500.4,107.52 500.8,107.36 501.2,107.82 501.6,108.12 502,107.37 502.4,107.17 502.8,107.52 503.2,107.63 503.6,107.93 504,107.42 504.4,108.09 504.8,108.04 505.2,107.8 505.3,107.48" fill="none" stroke="#c8102e" stroke-width="1.5" stroke-linejoin="round"/>
<text x="505.5" y="47.2" font-size="7.4" fill="#3bb34a" text-anchor="end" stroke="#3bb34a" stroke-width="0.1" textLength="15.3" lengthAdjust="spacing">GYP</text>
<text x="504.3" y="63.2" font-size="7.2" fill="#1f5a9a" text-anchor="end" stroke="#1f5a9a" stroke-width="0.1" textLength="29.5" lengthAdjust="spacing">AL-10mer</text>
<text x="504.3" y="101.7" font-size="7.2" fill="#c8102e" text-anchor="end" stroke="#c8102e" stroke-width="0.1" textLength="31.5" lengthAdjust="spacing">RA-11mer</text>
<text x="8.5" y="162.8" font-size="10.3" fill="#000" font-weight="bold" stroke="#000" stroke-width="0.35">E</text>
<line x1="35.2" y1="170.3" x2="35.2" y2="229.9" stroke="#151515" stroke-width="1.3"/>
<line x1="35.2" y1="233.8" x2="35.2" y2="248.1" stroke="#151515" stroke-width="1.3"/>
<line x1="32" y1="173.8" x2="35.2" y2="173.8" stroke="#151515" stroke-width="1.3"/>
<text transform="translate(29.1 176.4) scale(1.1 1)" font-size="7.5" fill="#1a1a1a" text-anchor="end" stroke="#1a1a1a" stroke-width="0.15">90</text>
<line x1="32" y1="187.6" x2="35.2" y2="187.6" stroke="#151515" stroke-width="1.3"/>
<text transform="translate(29.1 190.2) scale(1.1 1)" font-size="7.5" fill="#1a1a1a" text-anchor="end" stroke="#1a1a1a" stroke-width="0.15">80</text>
<line x1="32" y1="201.4" x2="35.2" y2="201.4" stroke="#151515" stroke-width="1.3"/>
<text transform="translate(29.1 204) scale(1.1 1)" font-size="7.5" fill="#1a1a1a" text-anchor="end" stroke="#1a1a1a" stroke-width="0.15">70</text>
<line x1="32" y1="215.2" x2="35.2" y2="215.2" stroke="#151515" stroke-width="1.3"/>
<text transform="translate(29.1 217.8) scale(1.1 1)" font-size="7.5" fill="#1a1a1a" text-anchor="end" stroke="#1a1a1a" stroke-width="0.15">60</text>
<line x1="32" y1="229" x2="35.2" y2="229" stroke="#151515" stroke-width="1.3"/>
<text transform="translate(29.1 231.6) scale(1.1 1)" font-size="7.5" fill="#1a1a1a" text-anchor="end" stroke="#1a1a1a" stroke-width="0.15">50</text>
<line x1="32" y1="234.9" x2="35.2" y2="234.9" stroke="#151515" stroke-width="1.3"/>
<text transform="translate(29.1 237.5) scale(1.1 1)" font-size="7.5" fill="#1a1a1a" text-anchor="end" stroke="#1a1a1a" stroke-width="0.15">10</text>
<line x1="32" y1="248.1" x2="35.2" y2="248.1" stroke="#151515" stroke-width="1.3"/>
<text transform="translate(29.1 250.7) scale(1.1 1)" font-size="7.5" fill="#1a1a1a" text-anchor="end" stroke="#1a1a1a" stroke-width="0.15">0</text>
<line x1="35.2" y1="234.3" x2="37.6" y2="233.4" stroke="#151515" stroke-width="1.0"/>
<line x1="31.9" y1="248.1" x2="103.6" y2="248.1" stroke="#151515" stroke-width="1.2"/>
<line x1="44" y1="248.1" x2="44" y2="250.6" stroke="#151515" stroke-width="1.0"/>
<line x1="61.3" y1="248.1" x2="61.3" y2="250.6" stroke="#151515" stroke-width="1.0"/>
<line x1="78" y1="248.1" x2="78" y2="250.6" stroke="#151515" stroke-width="1.0"/>
<line x1="95" y1="248.1" x2="95" y2="250.6" stroke="#151515" stroke-width="1.0"/>
<rect x="55.6" y="201.4" width="11.5" height="27.6" fill="#e2839a" stroke="none" stroke-width="0"/>
<rect x="55.6" y="233.9" width="11.5" height="14.2" fill="#e2839a" stroke="none" stroke-width="0"/>
<line x1="55.6" y1="201.4" x2="67.1" y2="201.4" stroke="#c8102e" stroke-width="0.8"/>
<line x1="61.3" y1="197.3" x2="61.3" y2="205" stroke="#c8102e" stroke-width="1.0"/>
<line x1="58.4" y1="197.3" x2="64.2" y2="197.3" stroke="#c8102e" stroke-width="1.0"/>
<line x1="58.4" y1="205" x2="64.2" y2="205" stroke="#c8102e" stroke-width="1.0"/>
<circle cx="61.3" cy="189.7" r="1.15" fill="#c8102e"/>
<circle cx="58.8" cy="203" r="1.15" fill="#c8102e"/>
<circle cx="63.4" cy="204" r="1.15" fill="#c8102e"/>
<circle cx="61.4" cy="212.2" r="1.15" fill="#c8102e"/>
<line x1="39.3" y1="243.6" x2="39.3" y2="247.8" stroke="#5e2384" stroke-width="0.9"/>
<line x1="38.2" y1="243.6" x2="40.4" y2="243.6" stroke="#5e2384" stroke-width="0.9"/>
<line x1="38.5" y1="246.6" x2="49.8" y2="246.6" stroke="#5e2384" stroke-width="0.8"/>
<circle cx="41.5" cy="246.5" r="1.15" fill="#5e2384"/>
<circle cx="44" cy="246" r="1.15" fill="#5e2384"/>
<circle cx="46.4" cy="246.6" r="1.15" fill="#5e2384"/>
<circle cx="48.8" cy="246.2" r="1.15" fill="#5e2384"/>
<line x1="72.8" y1="244.6" x2="83.8" y2="244.6" stroke="#1f5a9a" stroke-width="0.9"/>
<circle cx="73.4" cy="244" r="1.3" fill="#1f5a9a"/>
<circle cx="76.2" cy="244.9" r="1.3" fill="#1f5a9a"/>
<circle cx="78.8" cy="244.2" r="1.3" fill="#1f5a9a"/>
<circle cx="81.2" cy="244.9" r="1.3" fill="#1f5a9a"/>
<circle cx="83.5" cy="244.6" r="1.3" fill="#1f5a9a"/>
<circle cx="90.5" cy="247.6" r="1.0" fill="#3bb34a"/>
<circle cx="93" cy="247.6" r="1.0" fill="#3bb34a"/>
<circle cx="95.4" cy="247.6" r="1.0" fill="#3bb34a"/>
<circle cx="97.8" cy="247.6" r="1.0" fill="#3bb34a"/>
<circle cx="100.2" cy="247.6" r="1.0" fill="#3bb34a"/>
<line x1="89.8" y1="247.6" x2="100.8" y2="247.6" stroke="#3bb34a" stroke-width="1.0"/>
<text x="31.7" y="168.1" font-size="7.8" fill="#1a1a1a" font-style="italic" stroke="#1a1a1a" stroke-width="0.15" textLength="4.7" lengthAdjust="spacingAndGlyphs">P</text>
<text x="36.6" y="168.1" font-size="7.8" fill="#1a1a1a" stroke="#1a1a1a" stroke-width="0.15" textLength="23.7" lengthAdjust="spacingAndGlyphs">&lt;0.001</text>
<text x="69.8" y="168.1" font-size="7.8" fill="#1a1a1a" font-style="italic" stroke="#1a1a1a" stroke-width="0.15" textLength="4.7" lengthAdjust="spacingAndGlyphs">P</text>
<text x="74.7" y="168.1" font-size="7.8" fill="#1a1a1a" stroke="#1a1a1a" stroke-width="0.15" textLength="23" lengthAdjust="spacingAndGlyphs">&lt;0.001</text>
<text x="55.4" y="180.2" font-size="7.8" fill="#1a1a1a" font-style="italic" stroke="#1a1a1a" stroke-width="0.15" textLength="4.7" lengthAdjust="spacingAndGlyphs">P</text>
<text x="60.3" y="180.2" font-size="7.8" fill="#1a1a1a" stroke="#1a1a1a" stroke-width="0.15" textLength="22.7" lengthAdjust="spacingAndGlyphs">&lt;0.001</text>
<line x1="44.8" y1="170.7" x2="61.3" y2="170.7" stroke="#151515" stroke-width="0.9"/>
<line x1="44.8" y1="170.7" x2="44.8" y2="172.5" stroke="#151515" stroke-width="0.9"/>
<line x1="61.3" y1="170.7" x2="61.3" y2="172.5" stroke="#151515" stroke-width="0.9"/>
<line x1="62.6" y1="170.7" x2="95.6" y2="170.7" stroke="#151515" stroke-width="0.9"/>
<line x1="62.6" y1="170.7" x2="62.6" y2="172.5" stroke="#151515" stroke-width="0.9"/>
<line x1="95.6" y1="170.7" x2="95.6" y2="172.5" stroke="#151515" stroke-width="0.9"/>
<line x1="61.3" y1="183" x2="78.7" y2="183" stroke="#151515" stroke-width="0.9"/>
<line x1="61.3" y1="183" x2="61.3" y2="184.8" stroke="#151515" stroke-width="0.9"/>
<line x1="78.7" y1="183" x2="78.7" y2="184.8" stroke="#151515" stroke-width="0.9"/>
<text transform="translate(14 205.3) rotate(-90)" font-size="8.8" fill="#1a1a1a" text-anchor="middle" stroke="#1a1a1a" stroke-width="0.4" textLength="59.5" lengthAdjust="spacingAndGlyphs">Max aggregation (%)</text>
<text transform="translate(48.6 256.2) rotate(-45)" font-size="7.8" fill="#1a1a1a" text-anchor="end" stroke="#1a1a1a" stroke-width="0.2" textLength="21" lengthAdjust="spacingAndGlyphs">Buffer</text>
<text transform="translate(65.9 256.2) rotate(-45)" font-size="7.8" fill="#1a1a1a" text-anchor="end" stroke="#1a1a1a" stroke-width="0.2" textLength="36" lengthAdjust="spacingAndGlyphs">RA-11mer</text>
<text transform="translate(82.6 256.2) rotate(-45)" font-size="7.8" fill="#1a1a1a" text-anchor="end" stroke="#1a1a1a" stroke-width="0.2" textLength="35" lengthAdjust="spacingAndGlyphs">AL-10mer</text>
<text transform="translate(99.6 256.2) rotate(-45)" font-size="7.8" fill="#1a1a1a" text-anchor="end" stroke="#1a1a1a" stroke-width="0.2" textLength="14.5" lengthAdjust="spacingAndGlyphs">GYP</text>
<text x="125.3" y="163" font-size="10.3" fill="#000" font-weight="bold" stroke="#000" stroke-width="0.35">F</text>
<line x1="158.9" y1="165.8" x2="158.9" y2="248" stroke="#151515" stroke-width="1.3"/>
<line x1="155.5" y1="169.1" x2="158.9" y2="169.1" stroke="#151515" stroke-width="1.3"/>
<text transform="translate(153.1 171.7) scale(0.95 1)" font-size="8.0" fill="#1a1a1a" text-anchor="end" stroke="#1a1a1a" stroke-width="0.15">3.0</text>
<line x1="155.5" y1="187.9" x2="158.9" y2="187.9" stroke="#151515" stroke-width="1.3"/>
<text transform="translate(153.1 190.5) scale(0.95 1)" font-size="8.0" fill="#1a1a1a" text-anchor="end" stroke="#1a1a1a" stroke-width="0.15">2.5</text>
<line x1="155.5" y1="206.7" x2="158.9" y2="206.7" stroke="#151515" stroke-width="1.3"/>
<text transform="translate(153.1 209.3) scale(0.95 1)" font-size="8.0" fill="#1a1a1a" text-anchor="end" stroke="#1a1a1a" stroke-width="0.15">2.0</text>
<line x1="155.5" y1="225.5" x2="158.9" y2="225.5" stroke="#151515" stroke-width="1.3"/>
<text transform="translate(153.1 228.1) scale(0.95 1)" font-size="8.0" fill="#1a1a1a" text-anchor="end" stroke="#1a1a1a" stroke-width="0.15">1.5</text>
<line x1="155.5" y1="244.3" x2="158.9" y2="244.3" stroke="#151515" stroke-width="1.3"/>
<text transform="translate(153.1 246.9) scale(0.95 1)" font-size="8.0" fill="#1a1a1a" text-anchor="end" stroke="#1a1a1a" stroke-width="0.15">1.0</text>
<line x1="158.9" y1="248" x2="248" y2="248" stroke="#151515" stroke-width="1.3"/>
<line x1="158.9" y1="248" x2="158.9" y2="251" stroke="#151515" stroke-width="1.3"/>
<text transform="translate(158.9 259.6) scale(0.95 1)" font-size="8.0" fill="#1a1a1a" text-anchor="middle" stroke="#1a1a1a" stroke-width="0.15">0</text>
<line x1="187.2" y1="248" x2="187.2" y2="251" stroke="#151515" stroke-width="1.3"/>
<text transform="translate(187.2 259.6) scale(0.95 1)" font-size="8.0" fill="#1a1a1a" text-anchor="middle" stroke="#1a1a1a" stroke-width="0.15">100</text>
<line x1="215.5" y1="248" x2="215.5" y2="251" stroke="#151515" stroke-width="1.3"/>
<text transform="translate(215.5 259.6) scale(0.95 1)" font-size="8.0" fill="#1a1a1a" text-anchor="middle" stroke="#1a1a1a" stroke-width="0.15">200</text>
<line x1="243.8" y1="248" x2="243.8" y2="251" stroke="#151515" stroke-width="1.3"/>
<text transform="translate(243.8 259.6) scale(0.95 1)" font-size="8.0" fill="#1a1a1a" text-anchor="middle" stroke="#1a1a1a" stroke-width="0.15">300</text>
<text x="201.5" y="271.2" font-size="8.6" fill="#1a1a1a" text-anchor="middle" stroke="#1a1a1a" stroke-width="0.4" textLength="30.2" lengthAdjust="spacingAndGlyphs">Time (sec)</text>
<text transform="translate(137.6 206.7) rotate(-90)" font-size="8.6" fill="#1a1a1a" text-anchor="middle" stroke="#1a1a1a" stroke-width="0.4" textLength="42" lengthAdjust="spacingAndGlyphs">Ca2+ flux ratio</text>
<polygon points="166.5,243 167.2,241.54 167.9,239.77 168.6,237.77 169.3,235.71 170,233.44 170.7,230.79 171.4,227.42 172.1,224.16 172.8,218.61 173.5,215.58 174.2,210.66 174.9,207.12 175.6,205.62 176.3,202.95 177,202.87 177.7,200.84 178.4,199.32 179.1,198.42 179.8,197.93 180.5,197.56 181.2,197.29 181.9,195.1 182.6,194.81 183.3,193.82 184,194.53 184.7,192.47 185.4,191.76 186.1,191.3 186.8,191.46 187.5,191.96 188.2,191.56 188.9,190.92 189.6,191.09 190.3,190.66 191,189.29 191.7,188.78 192.4,189.89 193.1,189.31 193.8,187.81 194.5,188.74 195.2,188.01 195.9,187.8 196.6,187.53 197.3,187.03 198,186.54 198.7,186.84 199.4,186.78 200.1,187.68 200.8,186 201.5,187.33 202.2,185.79 202.9,185.89 203.6,186.56 204.3,186.4 205,185.53 205.7,184.68 206.4,185.3 207.1,184.96 207.8,185.8 208.5,184.35 209.2,184.53 209.9,185.36 210.6,183.66 211.3,184.23 212,184.84 212.7,184.64 213.4,183.22 214.1,183.11 214.8,183.05 215.5,184.49 216.2,183.2 216.9,183.98 217.6,184.16 218.3,183.05 219,182.84 219.7,183.98 220.4,183.27 221.1,182.53 221.8,183.26 222.5,182.45 223.2,182.29 223.9,181.72 224.6,182.99 225.3,183.2 226,182.62 226.7,183.1 227.4,181.38 228.1,181.69 228.8,182.06 229.5,182.87 230.2,182.8 230.9,181.74 231.6,181.45 232.3,181.72 233,181.79 233.7,182.53 234.4,181.15 235.1,182.23 235.8,182.08 236.5,182.19 237.2,182.06 237.9,181.73 238.6,181.19 239.3,181.15 240,181.19 240.7,181.91 241.4,180.62 242.1,180.8 242.8,181.76 243.5,180.82 244.2,180.46 244.9,180.37 245.1,181.29 245.1,197.19 244.9,196.23 244.2,196.51 243.5,197.07 242.8,197.84 242.1,197 241.4,197.76 240.7,197.06 240,197.94 239.3,196.34 238.6,196.72 237.9,197.68 237.2,196.74 236.5,197.06 235.8,198.21 235.1,197.99 234.4,197.21 233.7,197.12 233,197.52 232.3,197.08 231.6,198.26 230.9,197.12 230.2,197.1 229.5,197.36 228.8,197.91 228.1,196.98 227.4,196.88 226.7,197.9 226,197.78 225.3,197.54 224.6,197.04 223.9,197.02 223.2,197.94 222.5,198.43 221.8,197.41 221.1,197.65 220.4,197.48 219.7,198.43 219,197.86 218.3,197.35 217.6,197.76 216.9,198.63 216.2,198.6 215.5,198.04 214.8,198.02 214.1,197.98 213.4,198.46 212.7,198.27 212,199.09 211.3,199.14 210.6,198.34 209.9,199.98 209.2,199.79 208.5,198.98 207.8,199.44 207.1,200.32 206.4,199.56 205.7,200.69 205,200.2 204.3,201.04 203.6,199.77 202.9,199.78 202.2,200.27 201.5,200.01 200.8,201.78 200.1,201.84 199.4,202.1 198.7,201.79 198,201.42 197.3,203.35 196.6,203.17 195.9,203.89 195.2,203.29 194.5,204.25 193.8,205.66 193.1,205.12 192.4,205.53 191.7,206.54 191,207.71 190.3,207 189.6,207.78 188.9,208.43 188.2,209.01 187.5,210.66 186.8,210.67 186.1,211.76 185.4,212.01 184.7,213.73 184,213.22 183.3,215.02 182.6,216.17 181.9,216.84 181.2,217.63 180.5,218.45 179.8,219.05 179.1,219.8 178.4,221.25 177.7,223.09 177,224.22 176.3,225.55 175.6,228.12 174.9,230.95 174.2,234.88 173.5,237.63 172.8,240.43 172.1,241.03 171.4,242.27 170.7,242.83 170,243.11 169.3,243.23 168.6,243.35 167.9,243.56 167.2,243.98 166.5,244.5" fill="#f1b8c4" fill-opacity="0.9" stroke="none"/>
<polyline points="158.9,244.3 159.5,244.31 160.1,244.31 160.7,244.32 161.3,244.32 161.9,244.32 162.5,244.31 163.1,244.3 163.7,244.3 164.3,244.3 164.9,244.3 165.5,244.25 166.1,244.13 166.7,243.78 167.3,242.46 167.9,241.51 168.5,241.36 169.1,241.26 169.7,240.73 170.3,238.32 170.9,234.2 171.5,231.04 172.1,227.96 172.7,225.02 173.3,222.22 173.9,219.51 174.5,217.09 175.1,215.23 175.7,213.77 176.3,211.49 176.9,210.57 177.5,209.07 178.1,208.08 178.7,206.76 179.3,205.97 179.9,205.4 180.5,205.03 181.1,203.62 181.7,203.32 182.3,202.98 182.9,202.53 183.5,201.25 184.1,200.61 184.7,200.8 185.3,200.28 185.9,199.33 186.5,198.45 187.1,198.75 187.7,197.84 188.3,197.89 188.9,197.21 189.5,197.03 190.1,196.07 190.7,196.27 191.3,195.43 191.9,195.28 192.5,195.36 193.1,195.04 193.7,194.18 194.3,193.93 194.9,193.82 195.5,193.67 196.1,193.31 196.7,192.84 197.3,192.71 197.9,192.93 198.5,192.89 199.1,191.91 199.7,192.18 200.3,192.17 200.9,191.35 201.5,191.9 202.1,191.08 202.7,191.35 203.3,191.16 203.9,191.08 204.5,190.65 205.1,190.6 205.7,190.62 206.3,190.36 206.9,190.46 207.5,190.15 208.1,190.03 208.7,189.58 209.3,190.03 209.9,189.84 210.5,189.53 211.1,189.95 211.7,189.92 212.3,189.58 212.9,189.29 213.5,189.51 214.1,189.15 214.7,189.14 215.3,189.39 215.9,189.05 216.5,189.34 217.1,189.38 217.7,188.93 218.3,189.44 218.9,188.91 219.5,189.48 220.1,189.5 220.7,189.24 221.3,188.81 221.9,189.2 222.5,189.08 223.1,189.58 223.7,188.84 224.3,189.48 224.9,189.6 225.5,189.35 226.1,189.41 226.7,188.84 227.3,189.52 227.9,189.05 228.5,189.44 229.1,189.38 229.7,188.63 230.3,189.11 230.9,189.15 231.5,188.24 232.1,188.35 232.7,188.58 233.3,187.92 233.9,188.46 234.5,187.86 235.1,188.31 235.7,187.69 236.3,188.06 236.9,188.48 237.5,187.89 238.1,188 238.7,188.3 239.3,188.22 239.9,188.05 240.5,188.27 241.1,188.34 241.7,189.14 242.3,189.01 242.9,189.3 243.5,188.74 244.1,189.39 244.7,188.89 245.1,189.33" fill="none" stroke="#c8102e" stroke-width="1.5" stroke-linejoin="round"/>
<polyline points="158.9,244.4 167,243.8 168.6,241.4 169.8,244.8 170.5,244.46 171.5,244.29 172.5,244.53 173.5,244.34 174.5,244.33 175.5,244.46 176.5,244.05 177.5,244.47 178.5,244.26 179.5,244.12 180.5,244.3 181.5,244.01 182.5,244.35 183.5,244.11 184.5,243.98 185.5,244.16 186.5,243.98 187.5,243.82 188.5,244.08 189.5,243.71 190.5,244.07 191.5,243.76 192.5,243.93 193.5,244.08 194.5,243.85 195.5,243.87 196.5,243.67 197.5,243.49 198.5,243.48 199.5,243.52 200.5,243.73 201.5,243.61 202.5,243.63 203.5,243.79 204.5,243.39 205.5,243.41 206.5,243.6 207.5,243.26 208.5,243.23 209.5,243.38 210.5,243.23 211.5,243.33 212.5,243.24 213.5,243.4 214.5,243.38 215.5,243.16 216.5,243.35 217.5,243.25 218.5,243.05 219.5,243.43 220.5,243.06 221.5,242.99 222.5,242.94 223.5,243.19 224.5,243.28 225.5,243.21 226.5,242.99 227.5,242.9 228.5,242.75 229.5,243.04 230.5,242.98 231.5,242.85 232.5,242.97 233.5,242.85 234.5,243.07 235.5,242.94 236.5,242.68 237.5,242.98 238.5,242.53 239.5,242.75 240.5,242.66 241.5,242.55 242.5,242.44 243.5,242.78 244.5,242.37" fill="none" stroke="#1f5a9a" stroke-width="1.5" stroke-linejoin="round"/>
<line x1="202.8" y1="222.6" x2="209.2" y2="222.6" stroke="#c8102e" stroke-width="1.6"/>
<line x1="202.8" y1="234.2" x2="209.2" y2="234.2" stroke="#1f5a9a" stroke-width="1.6"/>
<text x="212.7" y="225.4" font-size="7.1" fill="#c8102e" stroke="#c8102e" stroke-width="0.1" textLength="31.6" lengthAdjust="spacingAndGlyphs">RA-11mer</text>
<text x="212.7" y="237" font-size="7.1" fill="#1f5a9a" stroke="#1f5a9a" stroke-width="0.1" textLength="23.8" lengthAdjust="spacingAndGlyphs">Tyrodes</text>
<text x="261.9" y="163.2" font-size="10.3" fill="#000" font-weight="bold" stroke="#000" stroke-width="0.35">G</text>
<line x1="299.5" y1="179.6" x2="416.3" y2="179.6" stroke="#151515" stroke-width="1.3"/>
<line x1="299.5" y1="176.6" x2="299.5" y2="179.6" stroke="#151515" stroke-width="1.3"/>
<text transform="translate(299.5 173.6) scale(1.1 1)" font-size="7.5" fill="#1a1a1a" text-anchor="middle" stroke="#1a1a1a" stroke-width="0.15">0</text>
<line x1="322.08" y1="176.6" x2="322.08" y2="179.6" stroke="#151515" stroke-width="1.3"/>
<text transform="translate(322.08 173.6) scale(1.1 1)" font-size="7.5" fill="#1a1a1a" text-anchor="middle" stroke="#1a1a1a" stroke-width="0.15">120</text>
<line x1="344.66" y1="176.6" x2="344.66" y2="179.6" stroke="#151515" stroke-width="1.3"/>
<text transform="translate(344.66 173.6) scale(1.1 1)" font-size="7.5" fill="#1a1a1a" text-anchor="middle" stroke="#1a1a1a" stroke-width="0.15">240</text>
<line x1="367.24" y1="176.6" x2="367.24" y2="179.6" stroke="#151515" stroke-width="1.3"/>
<text transform="translate(367.24 173.6) scale(1.1 1)" font-size="7.5" fill="#1a1a1a" text-anchor="middle" stroke="#1a1a1a" stroke-width="0.15">360</text>
<line x1="389.82" y1="176.6" x2="389.82" y2="179.6" stroke="#151515" stroke-width="1.3"/>
<text transform="translate(389.82 173.6) scale(1.1 1)" font-size="7.5" fill="#1a1a1a" text-anchor="middle" stroke="#1a1a1a" stroke-width="0.15">480</text>
<line x1="412.4" y1="176.6" x2="412.4" y2="179.6" stroke="#151515" stroke-width="1.3"/>
<text transform="translate(412.4 173.6) scale(1.1 1)" font-size="7.5" fill="#1a1a1a" text-anchor="middle" stroke="#1a1a1a" stroke-width="0.15">600</text>
<line x1="299.5" y1="179.6" x2="299.5" y2="260.6" stroke="#151515" stroke-width="1.3"/>
<line x1="296.1" y1="195.2" x2="299.5" y2="195.2" stroke="#151515" stroke-width="1.3"/>
<text transform="translate(293.7 198) scale(1.1 1)" font-size="7.5" fill="#1a1a1a" text-anchor="end" stroke="#1a1a1a" stroke-width="0.15">0</text>
<line x1="296.1" y1="210.61" x2="299.5" y2="210.61" stroke="#151515" stroke-width="1.3"/>
<text transform="translate(293.7 213.41) scale(1.1 1)" font-size="7.5" fill="#1a1a1a" text-anchor="end" stroke="#1a1a1a" stroke-width="0.15">20</text>
<line x1="296.1" y1="226.02" x2="299.5" y2="226.02" stroke="#151515" stroke-width="1.3"/>
<text transform="translate(293.7 228.82) scale(1.1 1)" font-size="7.5" fill="#1a1a1a" text-anchor="end" stroke="#1a1a1a" stroke-width="0.15">40</text>
<line x1="296.1" y1="241.43" x2="299.5" y2="241.43" stroke="#151515" stroke-width="1.3"/>
<text transform="translate(293.7 244.23) scale(1.1 1)" font-size="7.5" fill="#1a1a1a" text-anchor="end" stroke="#1a1a1a" stroke-width="0.15">60</text>
<line x1="296.1" y1="256.84" x2="299.5" y2="256.84" stroke="#151515" stroke-width="1.3"/>
<text transform="translate(293.7 259.64) scale(1.1 1)" font-size="7.5" fill="#1a1a1a" text-anchor="end" stroke="#1a1a1a" stroke-width="0.15">80</text>
<text x="356.2" y="161.4" font-size="8.6" fill="#1a1a1a" text-anchor="middle" stroke="#1a1a1a" stroke-width="0.4" textLength="30.3" lengthAdjust="spacingAndGlyphs">Time (sec)</text>
<text transform="translate(277 220.5) rotate(-90)" font-size="8.8" fill="#1a1a1a" text-anchor="middle" stroke="#1a1a1a" stroke-width="0.4" textLength="58.5" lengthAdjust="spacingAndGlyphs">Max aggregation (%)</text>
<polyline points="299.6,197.5 300.5,196 302,195.8 302.5,196.03 302.95,195.75 303.4,196.11 303.85,196.27 304.3,195.66 304.75,195.79 305.2,195.97 305.65,195.54 306.1,195.28 306.55,195.84 307,196 307.45,195.86 307.9,195.75 308.35,195.93 308.8,195.72 309.25,195.67 309.7,195.45 310.15,195.3 310.6,195.69 311.05,195.08 311.5,195.49 311.95,195.95 312.4,195.9 312.85,195.84 313.3,195.42 313.75,195.67 314.2,195.75 314.65,195.99 315.1,195.77 315.55,196.13 316,196.47 316.45,195.61 316.9,196.21 317.35,196.38 317.8,195.93 318.25,196.07 318.7,196.66 319.15,195.54 319.6,196.15 320.05,195.69 320.5,196.42 320.95,196.6 321.4,196.07 321.85,195.54 322.3,196.08 322.75,196.01 323.2,196.19 323.65,195.9 324.1,196.01 324.55,196.2 325,195.79 325.45,195.62 325.9,196.23 326.35,195.3 326.8,195.84 327.25,195.46 327.7,195.88 328.15,195.09 328.6,196.1 329.05,195.34 329.5,194.97 329.95,195.23 330.4,195.38 330.85,194.93 331.3,195.43 331.75,195.45 332.2,195.81 332.65,195.42 333.1,195.35 333.55,195.33 334,195.99 334.45,196.27 334.9,195.81 335.35,195.48 335.8,196.22 336.25,195.77 336.7,195.59 337.15,195.53 337.6,196.34 338.05,196.4 338.5,196.22 338.95,196.04 339.4,196.16 339.85,195.77 340.3,196.66 340.75,195.92 341.2,196.26 341.65,196.46 342.1,196.44 342.55,196 343,195.76 343.45,196.04 343.9,195.49 344.35,196.31 344.8,195.69 345.25,196.25 345.7,195.51 346.15,195.6 346.6,195.41 347.05,195.58 347.5,195.26 347.95,195.01 348.4,195.84 348.85,195.29 349.3,195.22 349.75,195.28 350.2,195.48 350.65,195.41 351.1,195.67 351.55,195.7 352,195.35 352.45,196.05 352.9,195.98 353.35,195.05 353.8,196.01 354.25,196.13 354.7,196.02 355.15,195.29 355.6,196.16 356.05,195.96 356.5,195.26 356.95,195.29 357.4,196.46 357.85,196.14 358.3,195.69 358.75,195.54 359.2,195.61 359.65,195.75 360.1,196.41 360.55,195.91 361,195.68 361.45,196.58 361.9,196.44 362.35,195.69 362.8,196.54 363.25,196.18 363.7,196.36 364.15,196.2 364.6,196.44 365.05,196.27 365.5,196.3 365.95,195.49 366.4,196.04 366.85,195.81 367.3,196.02 367.75,195.62 368.2,196.11 368.65,195.69 369.1,195.31 369.55,195.24 370,195.11 370.45,195.51 370.9,194.98 371.35,195.46 371.8,195.07 372.25,195.49 372.7,195.51 373.15,195.57 373.6,195.98 374.05,194.98 374.5,196.01 374.95,195.59 375.4,195.74 375.85,195.9 376.3,196.15 376.75,195.63 377.2,195.72 377.65,196.41 378.1,195.39 378.55,196.1 379,196.13 379.45,195.44 379.9,196.16 380.35,196.27 380.8,196.59 381.25,195.88 381.7,196.67 382.15,196.11 382.6,196.08 383.05,196.57 383.5,195.52 383.95,196.32 384.4,196.19 384.85,195.82 385.3,196.42 385.75,195.79 386.2,195.88 386.65,195.9 387.1,196.16 387.55,195.45 388,195.67 388.45,195.62 388.9,195.74 389.35,196.03 389.8,195.36 390.25,195.97 390.7,195.44 391.15,195.54 391.6,195.24 392.05,195.51 392.5,196.07 392.95,195.69 393.4,195.86 393.85,195.31 394.3,195.31 394.75,195.31 395.2,195.68 395.65,195.77 396.1,195.98 396.55,195.13 397,195.98 397.45,196.22 397.9,195.85 398.35,195.3 398.8,195.64 399.25,195.32 399.7,195.58 400.15,196.49 400.6,196.15 401.05,196.23 401.5,196.41 401.95,196.57 402.4,196.23 402.85,196.24 403.3,196.25 403.75,196.33 404.2,196.2 404.65,196.29 405.1,195.71 405.55,196.23 406,195.95 406.45,196.28 406.9,195.45 407.35,195.51 407.8,195.3 408.25,196.14 408.7,196.27 409.15,195.92 409.6,195.54 410.05,196.05 410.5,195.97 410.95,195.67 411.4,195.27 411.85,195.3 412.3,195.43" fill="none" stroke="#1f5a9a" stroke-width="1.4" stroke-linejoin="round"/>
<polyline points="299.6,196 300.5,194 302,193 302.5,193.36 303,193.72 303.5,193.01 304,193.07 304.5,193.45 305,193.37 305.5,193.5 306,193.66 306.5,193.1 307,193.23 307.5,193.23 308,193.01 308.5,193.78 309,193.69 309.5,193.64 310,193.02 310.5,193.78 311,193.7 311.5,193.46 312,193.72 312.5,193.47 313,193.27 313.5,193.17 314,193.3 314.5,193.13 315,193.41 315.5,193.79 316,193.76 316.5,193.9 317,193.79 317.5,193.4 318,193.67 318.5,193.57 319,193.9 319.5,193.67 320,193.45 320.5,193.8 321,194.1 321.5,193.44 322,194.04 322.5,193.27 323,193.5 323.5,193.49 324,193.96 324.5,194.15 325,193.98 325.5,193.61 326,194.12 326.5,193.64 327,193.57 327.5,194.18 328,193.94 328.5,194 329,193.99 329.5,194.28 330,193.97 330.5,194.31 331,194.18 331.5,194.33 332,193.95 332.5,194.21 333,194.08 333.5,193.84 334,193.76 334.5,194.13 335,193.64 335.5,194.39 336,193.7 336.5,193.6 337,193.67 337.5,194.42 338,193.89 338.5,193.71 339,193.61 339.5,193.63 340,194.21 340.5,194.16 341,194.22 341.5,194.26 342,193.66 342.5,194.13 343,193.93 343.5,194.34 344,194.34 344.5,194.41 345,193.67 345.5,194.39 346,194.44 346.5,194.47 347,193.71 347.5,193.81 348,193.72 348.5,193.65 349,194.39 349.5,194.36 350,194.2 350.5,194.37 351,194.2 351.5,193.89 352,193.73 352.5,193.73 353,194.32 353.5,193.83 354,193.93 354.5,194.03 355,193.67 355.5,193.88 356,193.91 356.5,194.3 357,193.99 357.5,193.95 358,194.53 358.5,194.12 359,194.43 359.5,194.22 360,193.7 360.5,194.04 361,194.07 361.5,194.37 362,193.99 362.5,194.31 363,194.17 363.5,193.88 364,194.46 364.5,193.77 365,194.43 365.5,193.85 366,193.7 366.5,193.88 367,194.38 367.5,194.58 368,193.71 368.5,194.15 369,194.15 369.5,194.43 370,193.88 370.5,194.16 371,194.03 371.5,194.46 372,193.95 372.5,194.57 373,193.98 373.5,193.92 374,194.36 374.5,194.18 375,193.83 375.5,194.3 376,193.81 376.5,194.45 377,194.37 377.5,194.45 378,194.31 378.5,194.06 379,194.11 379.5,194.1 380,194.55 380.5,193.83 381,194.55 381.5,193.78 382,193.94 382.5,194 383,194.57 383.5,194.22 384,194.11 384.5,194.56 385,193.98 385.5,194.19 386,194.25 386.5,194.46 387,194.46 387.5,194.36 388,194.1 388.5,194.08 389,193.93 389.5,194.55 390,194.39 390.5,194.46 391,193.95 391.5,194.19 392,194.49 392.5,194.32 393,193.92 393.5,194.22 394,194.6 394.5,194.02 395,193.98 395.5,194.08 396,194.45 396.5,194.58 397,193.96 397.5,193.96 398,194.04 398.5,194.12 399,194.3 399.5,193.97 400,194.13 400.5,194 401,194.71 401.5,194.49 402,193.93 402.5,194.71 403,193.93 403.5,194.19 404,194.73 404.5,194.56 405,194.51 405.5,194.24 406,194.03 406.5,194.43 407,193.95 407.5,194.05 408,194.21 408.5,193.89 409,194.23 409.5,194.58 410,194.49 410.5,194.32 411,194.44 411.5,194.29 412,194.01" fill="none" stroke="#3bb34a" stroke-width="1.4" stroke-linejoin="round"/>
<polyline points="299.6,180.8 300.8,189.83 301.3,192.56 301.8,195.18 302.3,197.51 302.8,199.2 303.3,201.43 303.8,203.42 304.3,205.64 304.8,207.78 305.3,209.28 305.8,210.89 306.3,212.05 306.8,213.1 307.3,214.35 307.8,215.39 308.3,216.38 308.8,217.17 309.3,217.69 309.8,218.36 310.3,218.91 310.8,219.79 311.3,220.28 311.8,220.9 312.3,221.48 312.8,222.09 313.3,222.95 313.8,223.29 314.3,224.17 314.8,224.34 315.3,225.15 315.8,225.34 316.3,225.78 316.8,226.52 317.3,226.76 317.8,227.37 318.3,227.55 318.8,227.85 319.3,228.48 319.8,228.79 320.3,229.15 320.8,229.4 321.3,229.44 321.8,229.94 322.3,230.25 322.8,230.42 323.3,230.87 323.8,230.86 324.3,231.39 324.8,231.54 325.3,231.48 325.8,231.71 326.3,232.18 326.8,232.46 327.3,232.36 327.8,232.65 328.3,233 328.8,232.94 329.3,233.39 329.8,233.39 330.3,233.38 330.8,233.64 331.3,233.86 331.8,233.94 332.3,234.17 332.8,234.08 333.3,234.46 333.8,234.4 334.3,234.62 334.8,234.73 335.3,234.75 335.8,234.84 336.3,235.1 336.8,235.26 337.3,235.3 337.8,235.31 338.3,235.29 338.8,235.29 339.3,235.74 339.8,235.71 340.3,235.85 340.8,235.72 341.3,235.91 341.8,236.13 342.3,236.14 342.8,236.12 343.3,236.07 343.8,236.18 344.3,236.43 344.8,236.28 345.3,236.47 345.8,236.5 346.3,236.67 346.8,236.7 347.3,236.55 347.8,236.5 348.3,236.66 348.8,236.78 349.3,236.91 349.8,237.06 350.3,237.15 350.8,236.87 351.3,237.25 351.8,237.3 352.3,237.37 352.8,237.31 353.3,237.25 353.8,237.54 354.3,237.58 354.8,237.58 355.3,237.73 355.8,237.56 356.3,237.51 356.8,237.75 357.3,237.9 357.8,237.72 358.3,237.99 358.8,238.12 359.3,237.89 359.8,238.09 360.3,238.18 360.8,238.14 361.3,238.09 361.8,238.17 362.3,238.42 362.8,238.49 363.3,238.41 363.8,238.31 364.3,238.65 364.8,238.69 365.3,238.52 365.8,238.71 366.3,238.89 366.8,238.92 367.3,238.79 367.8,238.81 368.3,238.9 368.8,238.79 369.3,238.85 369.8,238.89 370.3,239.16 370.8,239.07 371.3,239.21 371.8,239.2 372.3,239.3 372.8,239.21 373.3,239.22 373.8,239.66 374.3,239.47 374.8,239.42 375.3,239.68 375.8,239.8 376.3,239.61 376.8,239.84 377.3,239.79 377.8,239.92 378.3,239.78 378.8,239.84 379.3,240.28 379.8,240.28 380.3,240.19 380.8,240.27 381.3,240.21 381.8,240.47 382.3,240.38 382.8,240.64 383.3,240.63 383.8,240.7 384.3,240.81 384.8,240.58 385.3,240.55 385.8,240.66 386.3,240.71 386.8,240.72 387.3,240.76 387.8,241.01 388.3,241.18 388.8,241.07 389.3,241.31 389.8,241.34 390.3,241.05 390.8,241.31 391.3,241.27 391.8,241.21 392.3,241.59 392.8,241.35 393.3,241.52 393.8,241.59 394.3,241.76 394.8,241.68 395.3,241.62 395.8,241.68 396.3,241.6 396.8,241.97 397.3,242.02 397.8,241.75 398.3,241.71 398.8,241.84 399.3,241.92 399.8,242.18 400.3,242.22 400.8,242.23 401.3,241.95 401.8,242.28 402.3,242.29 402.8,242.3 403.3,242.48 403.8,242.14 404.3,242.22 404.8,242.5 405.3,242.61 405.8,242.54 406.3,242.43 406.8,242.58 407.3,242.69 407.8,242.46 408.3,242.59 408.8,242.6 409.3,242.58 409.8,242.76 410.3,242.68 410.8,242.74 411.3,242.74 411.5,242.97" fill="none" stroke="#c8102e" stroke-width="1.5" stroke-linejoin="round"/>
<text x="307.8" y="189.6" font-size="7.1" fill="#3bb34a" stroke="#3bb34a" stroke-width="0.1" textLength="55.2" lengthAdjust="spacingAndGlyphs">RA-6mer (10 mM)</text>
<text x="307.8" y="203.8" font-size="7.1" fill="#1f5a9a" stroke="#1f5a9a" stroke-width="0.1" textLength="51.1" lengthAdjust="spacingAndGlyphs">RA-6mer (1 mM)</text>
<text x="414.3" y="254.1" font-size="7.1" fill="#c8102e" text-anchor="end" stroke="#c8102e" stroke-width="0.1" textLength="55.4" lengthAdjust="spacingAndGlyphs">RA-11mer (1 mM)</text>
<text x="438.3" y="163" font-size="10.3" fill="#000" font-weight="bold" stroke="#000" stroke-width="0.35">H</text>
<line x1="471" y1="172.5" x2="471" y2="248.2" stroke="#151515" stroke-width="1.3"/>
<line x1="467.6" y1="176.9" x2="471" y2="176.9" stroke="#151515" stroke-width="1.3"/>
<text transform="translate(465.2 179.7) scale(1.1 1)" font-size="7.5" fill="#1a1a1a" text-anchor="end" stroke="#1a1a1a" stroke-width="0.15">80</text>
<line x1="467.6" y1="194.72" x2="471" y2="194.72" stroke="#151515" stroke-width="1.3"/>
<text transform="translate(465.2 197.52) scale(1.1 1)" font-size="7.5" fill="#1a1a1a" text-anchor="end" stroke="#1a1a1a" stroke-width="0.15">60</text>
<line x1="467.6" y1="212.55" x2="471" y2="212.55" stroke="#151515" stroke-width="1.3"/>
<text transform="translate(465.2 215.35) scale(1.1 1)" font-size="7.5" fill="#1a1a1a" text-anchor="end" stroke="#1a1a1a" stroke-width="0.15">40</text>
<line x1="467.6" y1="230.37" x2="471" y2="230.37" stroke="#151515" stroke-width="1.3"/>
<text transform="translate(465.2 233.17) scale(1.1 1)" font-size="7.5" fill="#1a1a1a" text-anchor="end" stroke="#1a1a1a" stroke-width="0.15">20</text>
<line x1="467.6" y1="248.2" x2="471" y2="248.2" stroke="#151515" stroke-width="1.3"/>
<text transform="translate(465.2 251) scale(1.1 1)" font-size="7.5" fill="#1a1a1a" text-anchor="end" stroke="#1a1a1a" stroke-width="0.15">0</text>
<line x1="469.3" y1="248.2" x2="507.5" y2="248.2" stroke="#151515" stroke-width="1.2"/>
<line x1="481.6" y1="248.2" x2="481.6" y2="250.7" stroke="#151515" stroke-width="1.0"/>
<line x1="498.1" y1="248.2" x2="498.1" y2="250.7" stroke="#151515" stroke-width="1.0"/>
<rect x="476.2" y="194.2" width="10.7" height="54" fill="#e2839a" stroke="none" stroke-width="0"/>
<line x1="476.2" y1="194.2" x2="486.9" y2="194.2" stroke="#c8102e" stroke-width="0.8"/>
<line x1="481.6" y1="191.8" x2="481.6" y2="196" stroke="#c8102e" stroke-width="1.0"/>
<line x1="479.1" y1="191.8" x2="484.1" y2="191.8" stroke="#c8102e" stroke-width="1.0"/>
<line x1="479.1" y1="196" x2="484.1" y2="196" stroke="#c8102e" stroke-width="1.0"/>
<circle cx="478.3" cy="192.3" r="1.15" fill="#c8102e"/>
<circle cx="484.6" cy="193.2" r="1.15" fill="#c8102e"/>
<circle cx="481.6" cy="196.6" r="1.15" fill="#c8102e"/>
<circle cx="492.5" cy="247.6" r="1.2" fill="#1f5a9a"/>
<circle cx="498.1" cy="246.9" r="1.2" fill="#1f5a9a"/>
<circle cx="503.7" cy="247.1" r="1.2" fill="#1f5a9a"/>
<text x="477.1" y="174.6" font-size="7.8" fill="#1a1a1a" font-style="italic" stroke="#1a1a1a" stroke-width="0.15" textLength="4.7" lengthAdjust="spacingAndGlyphs">P</text>
<text x="482" y="174.6" font-size="7.8" fill="#1a1a1a" stroke="#1a1a1a" stroke-width="0.15" textLength="22.6" lengthAdjust="spacingAndGlyphs">&lt;0.001</text>
<line x1="479.2" y1="177.9" x2="498.8" y2="177.9" stroke="#151515" stroke-width="0.9"/>
<line x1="479.2" y1="177.9" x2="479.2" y2="179.7" stroke="#151515" stroke-width="0.9"/>
<line x1="498.8" y1="177.9" x2="498.8" y2="179.7" stroke="#151515" stroke-width="0.9"/>
<text transform="translate(449.5 210) rotate(-90)" font-size="8.8" fill="#1a1a1a" text-anchor="middle" stroke="#1a1a1a" stroke-width="0.4" textLength="59.5" lengthAdjust="spacingAndGlyphs">Max aggregation (%)</text>
<text transform="translate(485.8 256.5) rotate(-45)" font-size="7.8" fill="#1a1a1a" text-anchor="end" stroke="#1a1a1a" stroke-width="0.2" textLength="19.5" lengthAdjust="spacingAndGlyphs">11mer</text>
<text transform="translate(502.3 256.5) rotate(-45)" font-size="7.8" fill="#1a1a1a" text-anchor="end" stroke="#1a1a1a" stroke-width="0.2" textLength="16" lengthAdjust="spacingAndGlyphs">6mer</text>
<text x="485.6" y="281.8" font-size="8.0" fill="#1a1a1a" text-anchor="middle" stroke="#1a1a1a" stroke-width="0.3" textLength="54.8" lengthAdjust="spacingAndGlyphs">RA-peptide (1 mM)</text>
<text x="7.1" y="314.4" font-size="10.3" fill="#000" font-weight="bold" stroke="#000" stroke-width="0.35">I</text>
<line x1="51.9" y1="319.8" x2="51.9" y2="328.5" stroke="#111" stroke-width="1.0"/>
<polygon points="49.6,327.6 54.2,327.6 51.9,331.2" fill="#111"/>
<text x="7.8" y="339.5" font-size="8.7" fill="#c8102e" stroke="#c8102e" stroke-width="0.15" textLength="27.6" lengthAdjust="spacingAndGlyphs">Human</text>
<line x1="39.6" y1="337.2" x2="43.1" y2="337.2" stroke="#111" stroke-width="0.7"/>
<text x="43.7" y="339.5" font-size="8.0" fill="#000" font-weight="bold" stroke="#000" stroke-width="0.25" textLength="10.2" lengthAdjust="spacingAndGlyphs">SR</text>
<text x="53.9" y="339.5" font-size="7.8" fill="#111" stroke="#111" stroke-width="0.05" textLength="50.3" lengthAdjust="spacingAndGlyphs">ALLLGWVPTR</text>
<line x1="104.9" y1="337.2" x2="108.6" y2="337.2" stroke="#111" stroke-width="0.7"/>
<text x="7.8" y="362.3" font-size="8.7" fill="#1f5a9a" stroke="#1f5a9a" stroke-width="0.15" textLength="16.2" lengthAdjust="spacingAndGlyphs">Dog</text>
<line x1="39.6" y1="360" x2="43.1" y2="360" stroke="#111" stroke-width="0.7"/>
<text x="43.7" y="362.3" font-size="8.0" fill="#000" font-weight="bold" stroke="#000" stroke-width="0.25" textLength="10.2" lengthAdjust="spacingAndGlyphs">SR</text>
<text x="53.9" y="362.3" font-size="7.8" fill="#111" stroke="#111" stroke-width="0.05" textLength="50.3" lengthAdjust="spacingAndGlyphs">ALLLGWVATR</text>
<line x1="104.9" y1="360" x2="108.6" y2="360" stroke="#111" stroke-width="0.7"/>
<text x="7.8" y="385.4" font-size="8.7" fill="#3bb34a" stroke="#3bb34a" stroke-width="0.15" textLength="25.9" lengthAdjust="spacingAndGlyphs">Mouse</text>
<line x1="39.6" y1="383.1" x2="43.1" y2="383.1" stroke="#111" stroke-width="0.7"/>
<text x="43.7" y="385.4" font-size="8.0" fill="#000" font-weight="bold" stroke="#000" stroke-width="0.25" textLength="10.2" lengthAdjust="spacingAndGlyphs">SQ</text>
<text x="53.9" y="385.4" font-size="7.8" fill="#111" stroke="#111" stroke-width="0.05" textLength="50.3" lengthAdjust="spacingAndGlyphs">ALLLGWVPTR</text>
<line x1="104.9" y1="383.1" x2="108.6" y2="383.1" stroke="#111" stroke-width="0.7"/>
<text x="7.8" y="407.3" font-size="8.7" fill="#5e2384" stroke="#5e2384" stroke-width="0.15" textLength="13.6" lengthAdjust="spacingAndGlyphs">Rat</text>
<line x1="39.6" y1="405" x2="43.1" y2="405" stroke="#111" stroke-width="0.7"/>
<text x="43.7" y="407.3" font-size="8.0" fill="#000" font-weight="bold" stroke="#000" stroke-width="0.25" textLength="10.2" lengthAdjust="spacingAndGlyphs">SE</text>
<text x="53.9" y="407.3" font-size="7.8" fill="#111" stroke="#111" stroke-width="0.05" textLength="50.3" lengthAdjust="spacingAndGlyphs">ALLLGWVPTR</text>
<line x1="104.9" y1="405" x2="108.6" y2="405" stroke="#111" stroke-width="0.7"/>
<circle cx="46.1" cy="347.9" r="0.8" fill="#111"/>
<circle cx="46.1" cy="350.9" r="0.8" fill="#111"/>
<circle cx="56.9" cy="347.9" r="0.8" fill="#111"/>
<circle cx="56.9" cy="350.9" r="0.8" fill="#111"/>
<circle cx="61.2" cy="347.9" r="0.8" fill="#111"/>
<circle cx="61.2" cy="350.9" r="0.8" fill="#111"/>
<circle cx="65.9" cy="347.9" r="0.8" fill="#111"/>
<circle cx="65.9" cy="350.9" r="0.8" fill="#111"/>
<circle cx="70.4" cy="347.9" r="0.8" fill="#111"/>
<circle cx="70.4" cy="350.9" r="0.8" fill="#111"/>
<circle cx="75.3" cy="347.9" r="0.8" fill="#111"/>
<circle cx="75.3" cy="350.9" r="0.8" fill="#111"/>
<circle cx="81.7" cy="347.9" r="0.8" fill="#111"/>
<circle cx="81.7" cy="350.9" r="0.8" fill="#111"/>
<circle cx="86.4" cy="347.9" r="0.8" fill="#111"/>
<circle cx="86.4" cy="350.9" r="0.8" fill="#111"/>
<circle cx="90.9" cy="347.9" r="0.8" fill="#111"/>
<circle cx="90.9" cy="350.9" r="0.8" fill="#111"/>
<circle cx="96.3" cy="347.9" r="0.8" fill="#111"/>
<circle cx="96.3" cy="350.9" r="0.8" fill="#111"/>
<circle cx="102" cy="347.9" r="0.8" fill="#111"/>
<circle cx="102" cy="350.9" r="0.8" fill="#111"/>
<circle cx="46.1" cy="370.9" r="0.8" fill="#111"/>
<circle cx="46.1" cy="373.9" r="0.8" fill="#111"/>
<circle cx="50.8" cy="370.9" r="0.8" fill="#111"/>
<circle cx="50.8" cy="373.9" r="0.8" fill="#111"/>
<circle cx="55.8" cy="370.9" r="0.8" fill="#111"/>
<circle cx="55.8" cy="373.9" r="0.8" fill="#111"/>
<circle cx="60.8" cy="370.9" r="0.8" fill="#111"/>
<circle cx="60.8" cy="373.9" r="0.8" fill="#111"/>
<circle cx="65.7" cy="370.9" r="0.8" fill="#111"/>
<circle cx="65.7" cy="373.9" r="0.8" fill="#111"/>
<circle cx="70.4" cy="370.9" r="0.8" fill="#111"/>
<circle cx="70.4" cy="373.9" r="0.8" fill="#111"/>
<circle cx="75.3" cy="370.9" r="0.8" fill="#111"/>
<circle cx="75.3" cy="373.9" r="0.8" fill="#111"/>
<circle cx="81.7" cy="370.9" r="0.8" fill="#111"/>
<circle cx="81.7" cy="373.9" r="0.8" fill="#111"/>
<circle cx="86.8" cy="370.9" r="0.8" fill="#111"/>
<circle cx="86.8" cy="373.9" r="0.8" fill="#111"/>
<circle cx="96.3" cy="370.9" r="0.8" fill="#111"/>
<circle cx="96.3" cy="373.9" r="0.8" fill="#111"/>
<circle cx="101.3" cy="370.9" r="0.8" fill="#111"/>
<circle cx="101.3" cy="373.9" r="0.8" fill="#111"/>
<circle cx="46.1" cy="393.3" r="0.8" fill="#111"/>
<circle cx="46.1" cy="396.3" r="0.8" fill="#111"/>
<circle cx="56.9" cy="393.3" r="0.8" fill="#111"/>
<circle cx="56.9" cy="396.3" r="0.8" fill="#111"/>
<circle cx="61.2" cy="393.3" r="0.8" fill="#111"/>
<circle cx="61.2" cy="396.3" r="0.8" fill="#111"/>
<circle cx="65.9" cy="393.3" r="0.8" fill="#111"/>
<circle cx="65.9" cy="396.3" r="0.8" fill="#111"/>
<circle cx="70.4" cy="393.3" r="0.8" fill="#111"/>
<circle cx="70.4" cy="396.3" r="0.8" fill="#111"/>
<circle cx="75.3" cy="393.3" r="0.8" fill="#111"/>
<circle cx="75.3" cy="396.3" r="0.8" fill="#111"/>
<circle cx="81.7" cy="393.3" r="0.8" fill="#111"/>
<circle cx="81.7" cy="396.3" r="0.8" fill="#111"/>
<circle cx="86.4" cy="393.3" r="0.8" fill="#111"/>
<circle cx="86.4" cy="396.3" r="0.8" fill="#111"/>
<circle cx="90.9" cy="393.3" r="0.8" fill="#111"/>
<circle cx="90.9" cy="396.3" r="0.8" fill="#111"/>
<circle cx="96.3" cy="393.3" r="0.8" fill="#111"/>
<circle cx="96.3" cy="396.3" r="0.8" fill="#111"/>
<circle cx="102" cy="393.3" r="0.8" fill="#111"/>
<circle cx="102" cy="396.3" r="0.8" fill="#111"/>
<text x="121.2" y="314.4" font-size="10.3" fill="#000" font-weight="bold" stroke="#000" stroke-width="0.35">J</text>
<text x="138.6" y="323" font-size="9.2" fill="#1a1a1a" stroke="#1a1a1a" stroke-width="0.05" textLength="35.8" lengthAdjust="spacingAndGlyphs">Thrombin</text>
<line x1="153.3" y1="350.7" x2="240.6" y2="350.7" stroke="#151515" stroke-width="1.3"/>
<line x1="153.3" y1="347.7" x2="153.3" y2="350.7" stroke="#151515" stroke-width="1.3"/>
<text transform="translate(153.3 344.8) scale(1.1 1)" font-size="7.5" fill="#1a1a1a" text-anchor="middle" stroke="#1a1a1a" stroke-width="0.15">0</text>
<line x1="174.03" y1="347.7" x2="174.03" y2="350.7" stroke="#151515" stroke-width="1.3"/>
<text transform="translate(174.03 344.8) scale(1.1 1)" font-size="7.5" fill="#1a1a1a" text-anchor="middle" stroke="#1a1a1a" stroke-width="0.15">150</text>
<line x1="194.75" y1="347.7" x2="194.75" y2="350.7" stroke="#151515" stroke-width="1.3"/>
<text transform="translate(194.75 344.8) scale(1.1 1)" font-size="7.5" fill="#1a1a1a" text-anchor="middle" stroke="#1a1a1a" stroke-width="0.15">300</text>
<line x1="215.48" y1="347.7" x2="215.48" y2="350.7" stroke="#151515" stroke-width="1.3"/>
<text transform="translate(215.48 344.8) scale(1.1 1)" font-size="7.5" fill="#1a1a1a" text-anchor="middle" stroke="#1a1a1a" stroke-width="0.15">450</text>
<line x1="236.2" y1="347.7" x2="236.2" y2="350.7" stroke="#151515" stroke-width="1.3"/>
<text transform="translate(236.2 344.8) scale(1.1 1)" font-size="7.5" fill="#1a1a1a" text-anchor="middle" stroke="#1a1a1a" stroke-width="0.15">600</text>
<line x1="153.2" y1="350.7" x2="153.2" y2="416.9" stroke="#151515" stroke-width="1.3"/>
<line x1="149.8" y1="359.8" x2="153.2" y2="359.8" stroke="#151515" stroke-width="1.3"/>
<text transform="translate(147.4 362.6) scale(1.1 1)" font-size="7.5" fill="#1a1a1a" text-anchor="end" stroke="#1a1a1a" stroke-width="0.15">0</text>
<line x1="149.8" y1="368.73" x2="153.2" y2="368.73" stroke="#151515" stroke-width="1.3"/>
<text transform="translate(147.4 371.53) scale(1.1 1)" font-size="7.5" fill="#1a1a1a" text-anchor="end" stroke="#1a1a1a" stroke-width="0.15">15</text>
<line x1="149.8" y1="377.67" x2="153.2" y2="377.67" stroke="#151515" stroke-width="1.3"/>
<text transform="translate(147.4 380.47) scale(1.1 1)" font-size="7.5" fill="#1a1a1a" text-anchor="end" stroke="#1a1a1a" stroke-width="0.15">30</text>
<line x1="149.8" y1="386.6" x2="153.2" y2="386.6" stroke="#151515" stroke-width="1.3"/>
<text transform="translate(147.4 389.4) scale(1.1 1)" font-size="7.5" fill="#1a1a1a" text-anchor="end" stroke="#1a1a1a" stroke-width="0.15">45</text>
<line x1="149.8" y1="395.54" x2="153.2" y2="395.54" stroke="#151515" stroke-width="1.3"/>
<text transform="translate(147.4 398.34) scale(1.1 1)" font-size="7.5" fill="#1a1a1a" text-anchor="end" stroke="#1a1a1a" stroke-width="0.15">60</text>
<line x1="149.8" y1="404.47" x2="153.2" y2="404.47" stroke="#151515" stroke-width="1.3"/>
<text transform="translate(147.4 407.27) scale(1.1 1)" font-size="7.5" fill="#1a1a1a" text-anchor="end" stroke="#1a1a1a" stroke-width="0.15">75</text>
<line x1="149.8" y1="413.4" x2="153.2" y2="413.4" stroke="#151515" stroke-width="1.3"/>
<text transform="translate(147.4 416.2) scale(1.1 1)" font-size="7.5" fill="#1a1a1a" text-anchor="end" stroke="#1a1a1a" stroke-width="0.15">90</text>
<text x="194.8" y="332.8" font-size="8.6" fill="#1a1a1a" text-anchor="middle" stroke="#1a1a1a" stroke-width="0.4" textLength="29.9" lengthAdjust="spacingAndGlyphs">Time (sec)</text>
<text transform="translate(131.6 384.6) rotate(-90)" font-size="8.8" fill="#1a1a1a" text-anchor="middle" stroke="#1a1a1a" stroke-width="0.4" textLength="59.4" lengthAdjust="spacingAndGlyphs">Max aggregation (%)</text>
<polyline points="153.4,360.5 153.74,362.03 154.23,364.22 154.77,366.68 155.3,369 155.8,371.18 156.31,373.41 156.81,375.55 157.3,377.5 157.76,379.2 158.21,380.72 158.65,382.13 159.1,383.5 159.55,384.83 160.01,386.09 160.48,387.31 161,388.5 161.57,389.69 162.18,390.86 162.83,391.97 163.5,393 164.21,393.94 164.97,394.81 165.74,395.59 166.5,396.3 167.22,396.9 167.92,397.41 168.66,397.87 169.5,398.3 170.44,398.72 171.45,399.11 172.56,399.46 173.8,399.8 175.21,400.11 176.76,400.39 178.38,400.66 180,400.9 181.58,401.12 183.16,401.32 184.81,401.51 186.6,401.7 188.54,401.88 190.6,402.06 192.76,402.23 195,402.4 197.23,402.57 199.48,402.74 201.94,402.92 204.8,403.1 208.2,403.3 212,403.5 216,403.7 220,403.9 224.36,404.1 229.05,404.3 233.27,404.48 236.2,404.6" fill="none" stroke="#5e2384" stroke-width="1.4" stroke-linejoin="round"/>
<polyline points="153.4,361.5 153.74,362.93 154.23,364.97 154.77,367.28 155.3,369.5 155.8,371.63 156.31,373.83 156.81,375.97 157.3,377.9 157.76,379.57 158.21,381.06 158.65,382.44 159.1,383.8 159.55,385.14 160.01,386.43 160.48,387.68 161,388.9 161.57,390.11 162.18,391.29 162.83,392.43 163.5,393.5 164.21,394.5 164.97,395.43 165.74,396.3 166.5,397.1 167.22,397.81 167.92,398.44 168.66,399.03 169.5,399.6 170.44,400.17 171.45,400.71 172.56,401.23 173.8,401.7 175.21,402.12 176.76,402.51 178.38,402.86 180,403.2 181.46,403.53 182.85,403.83 184.46,404.12 186.6,404.4 189.43,404.68 192.77,404.94 196.38,405.19 200,405.4 203.49,405.56 207.01,405.69 210.78,405.79 215,405.9 220.36,406.02 226.54,406.13 232.25,406.23 236.2,406.3" fill="none" stroke="#1f5a9a" stroke-width="1.4" stroke-linejoin="round"/>
<polyline points="153.4,352.5 153.58,354.19 153.83,356.6 154.12,359.34 154.4,362 154.65,364.59 154.91,367.29 155.18,369.94 155.5,372.4 155.88,374.62 156.3,376.69 156.75,378.64 157.2,380.5 157.65,382.28 158.11,383.96 158.59,385.53 159.1,387 159.65,388.33 160.22,389.53 160.84,390.67 161.5,391.8 162.22,392.97 162.99,394.14 163.79,395.24 164.6,396.2 165.42,396.99 166.25,397.65 167.11,398.23 168,398.8 168.89,399.34 169.78,399.83 170.76,400.3 171.9,400.8 173.21,401.33 174.66,401.88 176.25,402.44 178,403 179.98,403.59 182.16,404.21 184.41,404.8 186.6,405.3 188.68,405.69 190.72,406 192.81,406.26 195,406.5 197.23,406.72 199.48,406.91 201.94,407.06 204.8,407.2 208.2,407.31 212,407.39 216,407.45 220,407.5 224.36,407.54 229.05,407.57 233.27,407.59 236.2,407.6" fill="none" stroke="#3bb34a" stroke-width="1.4" stroke-linejoin="round"/>
<polyline points="153.3,358.8 153.46,359.08 153.69,359.47 153.95,359.91 154.2,360.3 154.44,360.59 154.67,360.83 154.93,361.1 155.2,361.5 155.47,361.98 155.75,362.52 156.08,363.23 156.5,364.2 157.06,365.55 157.71,367.2 158.41,368.95 159.1,370.6 159.77,372.13 160.44,373.63 161.12,375.09 161.8,376.5 162.5,377.86 163.2,379.17 163.9,380.42 164.6,381.6 165.28,382.69 165.95,383.71 166.62,384.68 167.3,385.6 167.98,386.48 168.66,387.31 169.36,388.11 170.1,388.9 170.9,389.68 171.73,390.45 172.6,391.19 173.5,391.9 174.42,392.58 175.38,393.24 176.36,393.85 177.4,394.4 178.5,394.88 179.66,395.29 180.83,395.66 182,396 183.06,396.28 184.06,396.49 185.18,396.74 186.6,397.1 188.4,397.64 190.47,398.29 192.71,398.97 195,399.6 197.37,400.18 199.85,400.74 202.36,401.25 204.8,401.7 207.14,402.05 209.44,402.34 211.72,402.58 214,402.8 216.19,403 218.31,403.16 220.55,403.31 223.1,403.5 226.4,403.75 230.22,404.04 233.75,404.31 236.2,404.5" fill="none" stroke="#c8102e" stroke-width="1.6" stroke-linejoin="round"/>
<text x="233.7" y="362" font-size="7.1" fill="#3bb34a" text-anchor="end" stroke="#3bb34a" stroke-width="0.1" textLength="20.6" lengthAdjust="spacingAndGlyphs">Mouse</text>
<text x="233.7" y="369.2" font-size="7.1" fill="#5e2384" text-anchor="end" stroke="#5e2384" stroke-width="0.1" textLength="10.6" lengthAdjust="spacingAndGlyphs">Rat</text>
<text x="233.7" y="377" font-size="7.1" fill="#1f5a9a" text-anchor="end" stroke="#1f5a9a" stroke-width="0.1" textLength="12.8" lengthAdjust="spacingAndGlyphs">Dog</text>
<text x="233.7" y="384.6" font-size="7.1" fill="#c8102e" text-anchor="end" stroke="#c8102e" stroke-width="0.1" textLength="21.9" lengthAdjust="spacingAndGlyphs">Human</text>
<text x="256.1" y="314.4" font-size="10.3" fill="#000" font-weight="bold" stroke="#000" stroke-width="0.35">K</text>
<text x="272.8" y="323" font-size="9.2" fill="#1a1a1a" stroke="#1a1a1a" stroke-width="0.05" textLength="21.3" lengthAdjust="spacingAndGlyphs">CatG</text>
<line x1="287.7" y1="350.7" x2="373.5" y2="350.7" stroke="#151515" stroke-width="1.3"/>
<line x1="287.7" y1="347.7" x2="287.7" y2="350.7" stroke="#151515" stroke-width="1.3"/>
<text transform="translate(287.7 344.8) scale(1.1 1)" font-size="7.5" fill="#1a1a1a" text-anchor="middle" stroke="#1a1a1a" stroke-width="0.15">0</text>
<line x1="308.35" y1="347.7" x2="308.35" y2="350.7" stroke="#151515" stroke-width="1.3"/>
<text transform="translate(308.35 344.8) scale(1.1 1)" font-size="7.5" fill="#1a1a1a" text-anchor="middle" stroke="#1a1a1a" stroke-width="0.15">150</text>
<line x1="329" y1="347.7" x2="329" y2="350.7" stroke="#151515" stroke-width="1.3"/>
<text transform="translate(329 344.8) scale(1.1 1)" font-size="7.5" fill="#1a1a1a" text-anchor="middle" stroke="#1a1a1a" stroke-width="0.15">300</text>
<line x1="349.65" y1="347.7" x2="349.65" y2="350.7" stroke="#151515" stroke-width="1.3"/>
<text transform="translate(349.65 344.8) scale(1.1 1)" font-size="7.5" fill="#1a1a1a" text-anchor="middle" stroke="#1a1a1a" stroke-width="0.15">450</text>
<line x1="370.3" y1="347.7" x2="370.3" y2="350.7" stroke="#151515" stroke-width="1.3"/>
<text transform="translate(370.3 344.8) scale(1.1 1)" font-size="7.5" fill="#1a1a1a" text-anchor="middle" stroke="#1a1a1a" stroke-width="0.15">600</text>
<line x1="287.7" y1="350.7" x2="287.7" y2="417.3" stroke="#151515" stroke-width="1.3"/>
<line x1="284.3" y1="361.2" x2="287.7" y2="361.2" stroke="#151515" stroke-width="1.3"/>
<text transform="translate(281.9 364) scale(1.1 1)" font-size="7.5" fill="#1a1a1a" text-anchor="end" stroke="#1a1a1a" stroke-width="0.15">0</text>
<line x1="284.3" y1="371.7" x2="287.7" y2="371.7" stroke="#151515" stroke-width="1.3"/>
<text transform="translate(281.9 374.5) scale(1.1 1)" font-size="7.5" fill="#1a1a1a" text-anchor="end" stroke="#1a1a1a" stroke-width="0.15">15</text>
<line x1="284.3" y1="382.2" x2="287.7" y2="382.2" stroke="#151515" stroke-width="1.3"/>
<text transform="translate(281.9 385) scale(1.1 1)" font-size="7.5" fill="#1a1a1a" text-anchor="end" stroke="#1a1a1a" stroke-width="0.15">30</text>
<line x1="284.3" y1="392.7" x2="287.7" y2="392.7" stroke="#151515" stroke-width="1.3"/>
<text transform="translate(281.9 395.5) scale(1.1 1)" font-size="7.5" fill="#1a1a1a" text-anchor="end" stroke="#1a1a1a" stroke-width="0.15">45</text>
<line x1="284.3" y1="403.2" x2="287.7" y2="403.2" stroke="#151515" stroke-width="1.3"/>
<text transform="translate(281.9 406) scale(1.1 1)" font-size="7.5" fill="#1a1a1a" text-anchor="end" stroke="#1a1a1a" stroke-width="0.15">60</text>
<line x1="284.3" y1="413.7" x2="287.7" y2="413.7" stroke="#151515" stroke-width="1.3"/>
<text transform="translate(281.9 416.5) scale(1.1 1)" font-size="7.5" fill="#1a1a1a" text-anchor="end" stroke="#1a1a1a" stroke-width="0.15">75</text>
<text x="328.9" y="332.7" font-size="8.6" fill="#1a1a1a" text-anchor="middle" stroke="#1a1a1a" stroke-width="0.4" textLength="29.8" lengthAdjust="spacingAndGlyphs">Time (sec)</text>
<text transform="translate(265.9 385) rotate(-90)" font-size="8.8" fill="#1a1a1a" text-anchor="middle" stroke="#1a1a1a" stroke-width="0.4" textLength="59.4" lengthAdjust="spacingAndGlyphs">Max aggregation (%)</text>
<text x="313.4" y="356" font-size="6.6" fill="#6cc878" stroke="#6cc878" stroke-width="0.05" textLength="18" lengthAdjust="spacingAndGlyphs">Mouse</text>
<polyline points="287.8,361.2 288.3,361.49 288.8,361.77 289.3,362.05 289.8,362.32 290.3,362.59 290.8,362.86 291.3,363.12 291.8,363.38 292.3,363.64 292.8,363.89 293.3,364.14 293.8,364.39 294.3,364.63 294.8,364.87 295.3,365.1 295.8,365.34 296.3,365.57 296.8,365.79 297.3,366.01 297.8,366.23 298.3,366.45 298.8,366.67 299.3,366.88 299.8,367.08 300.3,367.29 300.8,367.49 301.3,367.69 301.8,367.89 302.3,368.08 302.8,368.27 303.3,368.46 303.8,368.65 304.3,368.83 304.8,369.01 305.3,369.19 305.8,369.37 306.3,369.54 306.8,369.71 307.3,369.88 307.8,370.05 308.3,370.21 308.8,370.37 309.3,370.53 309.8,370.69 310.3,370.85 310.8,371 311.3,371.15 311.8,371.3 312.3,371.45 312.8,371.59 313.3,371.74 313.8,371.88 314.3,372.02 314.8,372.15 315.3,372.29 315.8,372.42 316.3,372.55 316.8,372.68 317.3,372.81 317.8,372.94 318.3,373.06 318.8,373.18 319.3,373.3 319.8,373.42 320.3,373.54 320.8,373.66 321.3,373.77 321.8,373.89 322.3,374 322.8,374.11 323.3,374.21 323.8,374.32 324.3,374.43 324.8,374.53 325.3,374.63 325.8,374.73 326.3,374.83 326.8,374.93 327.3,375.03 327.8,375.12 328.3,375.22 328.8,375.31 329.3,375.4 329.8,375.49 330.3,375.58 330.8,375.67 331.3,375.76 331.8,375.84 332.3,375.93 332.8,376.01 333.3,376.09 333.8,376.17 334.3,376.25 334.8,376.33 335.3,376.41 335.8,376.49 336.3,376.56 336.8,376.64 337.3,376.71 337.8,376.78 338.3,376.85 338.8,376.92 339.3,376.99 339.8,377.06 340.3,377.13 340.8,377.2 341.3,377.26 341.8,377.33 342.3,377.39 342.8,377.45 343.3,377.52 343.8,377.58 344.3,377.64 344.8,377.7 345.3,377.76 345.8,377.81 346.3,377.87 346.8,377.93 347.3,377.98 347.8,378.04 348.3,378.09 348.8,378.14 349.3,378.2 349.8,378.25 350.3,378.3 350.8,378.35 351.3,378.4 351.8,378.45 352.3,378.5 352.8,378.55 353.3,378.59 353.8,378.64 354.3,378.69 354.8,378.73 355.3,378.77 355.8,378.82 356.3,378.86 356.8,378.9 357.3,378.95 357.8,378.99 358.3,379.03 358.8,379.07 359.3,379.11 359.8,379.15 360.3,379.19 360.8,379.23 361.3,379.26 361.8,379.3 362.3,379.34 362.8,379.37 363.3,379.41 363.8,379.44 364.3,379.48 364.8,379.51 365.3,379.55 365.8,379.58 366.3,379.61 366.8,379.65 367.3,379.68 367.8,379.71 368.3,379.74 368.8,379.77 369.3,379.8 369.8,379.83 370.3,379.86 370.8,379.89" fill="none" stroke="#1f5a9a" stroke-width="1.5" stroke-linejoin="round"/>
<polyline points="287.8,360.5 288.5,361.29 289,361.61 289.5,361.47 290,361.69 290.5,361.06 291,361.44 291.5,362 292,361.31 292.5,361.66 293,361.59 293.5,361.36 294,362.14 294.5,361.38 295,361.9 295.5,361.22 296,361.12 296.5,362.01 297,361.53 297.5,361.12 298,361.48 298.5,361.53 299,361.86 299.5,361.17 300,361.3 300.5,362.11 301,361.86 301.5,361.22 302,361.42 302.5,361.44 303,361.79 303.5,361.73 304,361.98 304.5,361.95 305,361.62 305.5,361.86 306,361.87 306.5,361.89 307,361.57 307.5,361.91 308,361.83 308.5,362.06 309,361.19 309.5,362.01 310,361.05 310.5,361.89 311,361.69 311.5,361.6 312,362.11 312.5,361.68 313,361.51 313.5,361.91 314,362.01 314.5,361.72 315,361.47 315.5,361.55 316,361.55 316.5,361.85 317,361.37 317.5,361.48 318,361.66 318.5,361.47 319,361.4 319.5,361.92 320,361.98 320.5,361.6 321,361.54 321.5,361.25 322,361.38 322.5,361.21 323,361.68 323.5,361.69 324,361.15 324.5,362.06 325,361.41 325.5,361.98 326,361.97 326.5,362.1 327,361.27 327.5,361.52 328,362.05 328.5,361.06 329,361.1 329.5,361.67 330,361.6 330.5,362.06 331,361.9 331.5,361.64 332,362.15 332.5,361.62 333,361.62 333.5,361.8 334,361.48 334.5,361.44 335,361.7 335.5,361.44 336,362.09 336.5,361.79 337,361.63 337.5,361.16 338,361.46 338.5,361.49 339,361.67 339.5,361.68 340,362.02 340.5,362.11 341,361.59 341.5,361.53 342,361.74 342.5,362.15 343,361.43 343.5,361.63 344,361.95 344.5,361.24 345,361.4 345.5,362.13 346,361.96 346.5,361.61 347,361.17 347.5,362.03 348,361.81 348.5,361.95 349,362.14 349.5,362.03 350,361.51 350.5,361.22 351,361.37 351.5,361.61 352,361.61 352.5,361.26 353,361.25 353.5,361.74 354,361.71 354.5,361.44 355,362.14 355.5,361.75 356,361.1 356.5,361.5 357,361.92 357.5,361.39 358,361.81 358.5,361.05 359,361.38 359.5,361.98 360,361.69 360.5,361.78 361,361.27 361.5,361.6 362,361.66 362.5,361.34 363,361.76 363.5,361.63 364,362.15 364.5,361.68 365,361.5 365.5,361.18 366,361.22 366.5,361.89 367,361.17 367.5,361.16 368,361.24 368.5,361.62 369,361.96 369.5,361.72 370,361.94 370.5,361.12 371,361.06" fill="none" stroke="#5e2384" stroke-width="1.3" stroke-linejoin="round"/>
<polyline points="287.8,361 289,359.5 291,358.2 291.5,357.55 292,358.17 292.5,357.68 293,357.52 293.5,358.31 294,357.66 294.5,358.29 295,358.21 295.5,358.21 296,357.53 296.5,357.79 297,357.46 297.5,358.19 298,358.1 298.5,357.89 299,357.72 299.5,357.6 300,358.02 300.5,357.69 301,357.82 301.5,357.36 302,357.42 302.5,357.26 303,357.83 303.5,357.67 304,357.29 304.5,357.93 305,357.37 305.5,357.49 306,357.24 306.5,357.33 307,357.83 307.5,357.36 308,357.19 308.5,357.47 309,357.3 309.5,357.81 310,357.08 310.5,357.85 311,357 311.5,357.74 312,357.52 312.5,357.1 313,357.32 313.5,357.13 314,357.09 314.5,357.03 315,357.16 315.5,357.71 316,357.7 316.5,357.62 317,356.86 317.5,357.02 318,357.55 318.5,356.78 319,357.36 319.5,356.96 320,357.56 320.5,356.68 321,357.38 321.5,356.94 322,356.75 322.5,356.61 323,357.34 323.5,357.05 324,356.73 324.5,356.94 325,357.35 325.5,356.71 326,357.01 326.5,356.61 327,356.63 327.5,357.15 328,357.08 328.5,356.6 329,356.48 329.5,356.47 330,356.93 330.5,356.81 331,356.6 331.5,356.52 332,356.87 332.5,356.94 333,357.02 333.5,356.8 334,356.44 334.5,356.3 335,356.51 335.5,356.22 336,356.5 336.5,355.9 337,356.58 337.5,356.15 338,356.61 338.5,356.63 339,356.29 339.5,355.86 340,356.67 340.5,356.28 341,356.63 341.5,356.09 342,356.02 342.5,356.6 343,356.18 343.5,356 344,356.18 344.5,356.39 345,355.85 345.5,356.32 346,356.25 346.5,356.31 347,355.96 347.5,356.49 348,356.58 348.5,356.63 349,356.14 349.5,356.49 350,356.19 350.5,356.53 351,355.91 351.5,356.64 352,356.71 352.5,356.3 353,356.31 353.5,356.33 354,356.33 354.5,355.87 355,356.72 355.5,356.05 356,356.01 356.5,355.94 357,356.08 357.5,356.59 358,355.88 358.5,355.94 359,356.48 359.5,356.03 360,355.87 360.5,356.39 361,356.37 361.5,356.32 362,356.48 362.5,355.94 363,356.63 363.5,356.5 364,355.89 364.5,355.96 365,356.29 365.5,356.3 366,356.1 366.5,355.96 367,356.22 367.5,355.97 368,356.38 368.5,356.62 369,355.98 369.5,356.37 370,356.52 370.5,356 371,356.59" fill="none" stroke="#3bb34a" stroke-width="1.4" stroke-linejoin="round"/>
<polyline points="335,357.26 335.45,356.06 335.9,356.13 336.35,357.05 336.8,356.36 337.25,356.07 337.7,357.27 338.15,356.91 338.6,355.94 339.05,355.73 339.5,355.94 339.95,356.16 340.4,357.36 340.85,356.97 341.3,357.21 341.75,356.99 342.2,357.06 342.65,355.32 343.1,356.34 343.55,357.31 344,357.26 344.45,355.75 344.9,356.13 345.35,356.59 345.8,356 346.25,356.37 346.7,355.35 347.15,356.15 347.6,356.31 348.05,355.25 348.5,355.51 348.95,357.33 349.4,356.91 349.85,357.26 350.3,356.59 350.75,356.98 351.2,357.15 351.65,357.15 352.1,355.28 352.55,356.61 353,355.78 353.45,356.69 353.9,355.8 354.35,356.39 354.8,357.23 355.25,356.57 355.7,355.75 356.15,356.34 356.6,356.15 357.05,357.29 357.5,355.83 357.95,355.87 358.4,356.62 358.85,355.46 359.3,356.51 359.75,357.3 360.2,356.33 360.65,355.79 361.1,356.23 361.55,356.37 362,355.53 362.45,355.47 362.9,355.49 363.35,355.85 363.8,356.09 364.25,355.83 364.7,355.74 365.15,355.39 365.6,356.4 366.05,357.05 366.5,356.54 366.95,356.45 367.4,356.63 367.85,355.64 368.3,356.76 368.75,356.21 369.2,356.41 369.65,356.55 370.1,356.23 370.55,355.88 371,355.73" fill="none" stroke="#3bb34a" stroke-width="1.2" stroke-linejoin="round"/>
<polyline points="287.2,356.5 287.43,357.32 287.76,358.5 288.13,359.8 288.5,361 288.85,361.99 289.22,362.91 289.6,363.87 290,365 290.42,366.36 290.87,367.89 291.33,369.47 291.8,371 292.26,372.44 292.71,373.86 293.21,375.29 293.8,376.8 294.46,378.39 295.17,380.04 296,381.75 297,383.5 298.28,385.39 299.78,387.4 301.31,389.33 302.7,391 303.87,392.34 304.92,393.45 305.94,394.41 307,395.3 308.02,396.08 308.99,396.72 310.09,397.33 311.5,398 313.33,398.79 315.46,399.64 317.73,400.47 320,401.2 322.21,401.83 324.46,402.39 326.77,402.88 329.2,403.3 331.69,403.64 334.24,403.9 336.97,404.11 340,404.3 343.43,404.46 347.18,404.59 351.08,404.7 355,404.8 359.3,404.9 363.94,404.98 368.1,405.05 371,405.1" fill="none" stroke="#c8102e" stroke-width="1.6" stroke-linejoin="round"/>
<text x="367.8" y="370.3" font-size="7.1" fill="#5e2384" text-anchor="end" stroke="#5e2384" stroke-width="0.1" textLength="11.5" lengthAdjust="spacingAndGlyphs">Rat</text>
<text x="367.8" y="387" font-size="7.1" fill="#1f5a9a" text-anchor="end" stroke="#1f5a9a" stroke-width="0.1" textLength="13.2" lengthAdjust="spacingAndGlyphs">Dog</text>
<text x="367.8" y="411.5" font-size="7.1" fill="#c8102e" text-anchor="end" stroke="#c8102e" stroke-width="0.1" textLength="21.3" lengthAdjust="spacingAndGlyphs">Human</text>
<text x="387.8" y="314.4" font-size="10.3" fill="#000" font-weight="bold" stroke="#000" stroke-width="0.35">L</text>
<text x="403.9" y="323" font-size="9.2" fill="#1a1a1a" stroke="#1a1a1a" stroke-width="0.05" textLength="40.1" lengthAdjust="spacingAndGlyphs">RA-11mer</text>
<line x1="421.5" y1="349.6" x2="509.2" y2="349.6" stroke="#151515" stroke-width="1.3"/>
<line x1="421.5" y1="346.6" x2="421.5" y2="349.6" stroke="#151515" stroke-width="1.3"/>
<text transform="translate(421.5 343.8) scale(1.1 1)" font-size="7.5" fill="#1a1a1a" text-anchor="middle" stroke="#1a1a1a" stroke-width="0.15">0</text>
<line x1="442.5" y1="346.6" x2="442.5" y2="349.6" stroke="#151515" stroke-width="1.3"/>
<text transform="translate(442.5 343.8) scale(1.1 1)" font-size="7.5" fill="#1a1a1a" text-anchor="middle" stroke="#1a1a1a" stroke-width="0.15">150</text>
<line x1="463.5" y1="346.6" x2="463.5" y2="349.6" stroke="#151515" stroke-width="1.3"/>
<text transform="translate(463.5 343.8) scale(1.1 1)" font-size="7.5" fill="#1a1a1a" text-anchor="middle" stroke="#1a1a1a" stroke-width="0.15">300</text>
<line x1="484.5" y1="346.6" x2="484.5" y2="349.6" stroke="#151515" stroke-width="1.3"/>
<text transform="translate(484.5 343.8) scale(1.1 1)" font-size="7.5" fill="#1a1a1a" text-anchor="middle" stroke="#1a1a1a" stroke-width="0.15">450</text>
<line x1="505.5" y1="346.6" x2="505.5" y2="349.6" stroke="#151515" stroke-width="1.3"/>
<text transform="translate(505.5 343.8) scale(1.1 1)" font-size="7.5" fill="#1a1a1a" text-anchor="middle" stroke="#1a1a1a" stroke-width="0.15">600</text>
<line x1="421.6" y1="349.6" x2="421.6" y2="417.3" stroke="#151515" stroke-width="1.3"/>
<line x1="418.2" y1="363.4" x2="421.6" y2="363.4" stroke="#151515" stroke-width="1.3"/>
<text transform="translate(415.8 366.2) scale(1.1 1)" font-size="7.5" fill="#1a1a1a" text-anchor="end" stroke="#1a1a1a" stroke-width="0.15">0</text>
<line x1="418.2" y1="373.6" x2="421.6" y2="373.6" stroke="#151515" stroke-width="1.3"/>
<text transform="translate(415.8 376.4) scale(1.1 1)" font-size="7.5" fill="#1a1a1a" text-anchor="end" stroke="#1a1a1a" stroke-width="0.15">15</text>
<line x1="418.2" y1="383.8" x2="421.6" y2="383.8" stroke="#151515" stroke-width="1.3"/>
<text transform="translate(415.8 386.6) scale(1.1 1)" font-size="7.5" fill="#1a1a1a" text-anchor="end" stroke="#1a1a1a" stroke-width="0.15">30</text>
<line x1="418.2" y1="394" x2="421.6" y2="394" stroke="#151515" stroke-width="1.3"/>
<text transform="translate(415.8 396.8) scale(1.1 1)" font-size="7.5" fill="#1a1a1a" text-anchor="end" stroke="#1a1a1a" stroke-width="0.15">45</text>
<line x1="418.2" y1="404.2" x2="421.6" y2="404.2" stroke="#151515" stroke-width="1.3"/>
<text transform="translate(415.8 407) scale(1.1 1)" font-size="7.5" fill="#1a1a1a" text-anchor="end" stroke="#1a1a1a" stroke-width="0.15">60</text>
<line x1="418.2" y1="414.4" x2="421.6" y2="414.4" stroke="#151515" stroke-width="1.3"/>
<text transform="translate(415.8 417.2) scale(1.1 1)" font-size="7.5" fill="#1a1a1a" text-anchor="end" stroke="#1a1a1a" stroke-width="0.15">75</text>
<text x="463.7" y="331.8" font-size="8.6" fill="#1a1a1a" text-anchor="middle" stroke="#1a1a1a" stroke-width="0.4" textLength="30.2" lengthAdjust="spacingAndGlyphs">Time (sec)</text>
<text transform="translate(399.1 384.3) rotate(-90)" font-size="8.8" fill="#1a1a1a" text-anchor="middle" stroke="#1a1a1a" stroke-width="0.4" textLength="59.4" lengthAdjust="spacingAndGlyphs">Max aggregation (%)</text>
<polyline points="421.7,363.8 422.5,364.52 423.1,364.52 423.7,364.19 424.3,364.2 424.9,364.26 425.5,364.29 426.1,364.35 426.7,364.39 427.3,364.23 427.9,364.37 428.5,364.54 429.1,364.32 429.7,364.65 430.3,364.53 430.9,364.61 431.5,364.38 432.1,364.48 432.7,364.61 433.3,364.45 433.9,364.28 434.5,364.7 435.1,364.68 435.7,364.44 436.3,364.33 436.9,364.74 437.5,364.62 438.1,364.35 438.7,364.46 439.3,364.4 439.9,364.74 440.5,364.46 441.1,364.82 441.7,364.74 442.3,364.42 442.9,364.73 443.5,364.58 444.1,364.77 444.7,364.81 445.3,364.55 445.9,364.46 446.5,364.89 447.1,364.64 447.7,364.9 448.3,364.79 448.9,364.82 449.5,364.87 450.1,364.77 450.7,364.69 451.3,364.5 451.9,364.83 452.5,364.7 453.1,364.75 453.7,364.96 454.3,364.57 454.9,364.89 455.5,364.54 456.1,364.88 456.7,364.93 457.3,364.67 457.9,364.82 458.5,365.04 459.1,364.88 459.7,364.84 460.3,364.7 460.9,364.61 461.5,364.76 462.1,364.8 462.7,364.7 463.3,364.76 463.9,364.68 464.5,364.97 465.1,364.96 465.7,364.75 466.3,364.76 466.9,364.9 467.5,364.87 468.1,365.13 468.7,364.84 469.3,364.82 469.9,365.12 470.5,364.75 471.1,364.97 471.7,364.86 472.3,365.11 472.9,364.98 473.5,365.1 474.1,364.81 474.7,365.06 475.3,365.04 475.9,364.97 476.5,365.13 477.1,365.17 477.7,364.82 478.3,364.91 478.9,364.96 479.5,364.89 480.1,364.82 480.7,364.94 481.3,364.9 481.9,365.16 482.5,365.04 483.1,364.88 483.7,364.99 484.3,365.07 484.9,365.02 485.5,364.93 486.1,364.89 486.7,364.87 487.3,365.36 487.9,365.25 488.5,364.92 489.1,365.25 489.7,365.38 490.3,365.18 490.9,364.96 491.5,365.16 492.1,365.14 492.7,365.02 493.3,365.21 493.9,364.95 494.5,365.41 495.1,365.28 495.7,365.27 496.3,365.43 496.9,365.3 497.5,365.11 498.1,365.11 498.7,365.06 499.3,365.01 499.9,365.39 500.5,365.43 501.1,365.17 501.7,365.12 502.3,365.35 502.9,365.46 503.5,365.51 504.1,365.14 504.7,365.45" fill="none" stroke="#5e2384" stroke-width="1.4" stroke-linejoin="round"/>
<polyline points="421.7,367.5 423,365.2 423.5,365.57 424.1,365.31 424.7,365.55 425.3,365.34 425.9,365.24 426.5,365.31 427.1,365.21 427.7,365.7 428.3,365.52 428.9,365.39 429.5,365.45 430.1,365.42 430.7,365.23 431.3,365.74 431.9,365.57 432.5,365.8 433.1,365.5 433.7,365.61 434.3,365.4 434.9,365.28 435.5,365.82 436.1,365.78 436.7,365.47 437.3,365.83 437.9,365.78 438.5,365.48 439.1,365.67 439.7,365.89 440.3,365.62 440.9,365.9 441.5,365.49 442.1,365.58 442.7,365.79 443.3,365.5 443.9,365.56 444.5,365.9 445.1,365.68 445.7,365.87 446.3,365.55 446.9,365.51 447.5,365.63 448.1,365.54 448.7,366.02 449.3,365.62 449.9,365.79 450.5,365.53 451.1,365.79 451.7,365.7 452.3,365.72 452.9,365.53 453.5,365.57 454.1,366 454.7,365.72 455.3,365.67 455.9,365.64 456.5,365.71 457.1,365.69 457.7,365.57 458.3,365.96 458.9,365.77 459.5,365.67 460.1,366.01 460.7,365.65 461.3,365.76 461.9,366.11 462.5,365.69 463.1,365.89 463.7,366.13 464.3,366.12 464.9,365.74 465.5,365.86 466.1,366.09 466.7,365.89 467.3,366.25 467.9,365.81 468.5,366.26 469.1,366 469.7,365.84 470.3,365.99 470.9,365.8 471.5,366.15 472.1,365.89 472.7,366.29 473.3,366.11 473.9,365.98 474.5,365.92 475.1,366.14 475.7,365.91 476.3,366.32 476.9,365.87 477.5,366.12 478.1,366.14 478.7,365.99 479.3,366.29 479.9,366.07 480.5,366.24 481.1,366.2 481.7,366.05 482.3,366.1 482.9,365.93 483.5,365.99 484.1,366.4 484.7,366.09 485.3,366.31 485.9,365.98 486.5,366.26 487.1,366.15 487.7,366.24 488.3,366.13 488.9,366 489.5,366.15 490.1,366.11 490.7,366.06 491.3,366.42 491.9,366.17 492.5,366.25 493.1,366.56 493.7,366.48 494.3,366.56 494.9,366.55 495.5,366.12 496.1,366.22 496.7,366.08 497.3,366.47 497.9,366.47 498.5,366.29 499.1,366.34 499.7,366.49 500.3,366.52 500.9,366.26 501.5,366.63 502.1,366.34 502.7,366.51 503.3,366.25 503.9,366.22 504.5,366.71" fill="none" stroke="#3bb34a" stroke-width="1.4" stroke-linejoin="round"/>
<polyline points="421.7,363.83 422.2,365.23 422.7,366.39 423.2,367.88 423.7,369.53 424.2,369.9 424.7,370.49 425.2,371.09 425.7,371.36 426.2,372.06 426.7,371.98 427.2,372.15 427.7,372.78 428.2,373.06 428.7,373.4 429.2,373.5 429.7,373.79 430.2,373.97 430.7,373.78 431.2,373.91 431.7,373.79 432.2,374 432.7,374.3 433.2,374.04 433.7,374.56 434.2,374.27 434.7,374.54 435.2,374.97 435.7,374.42 436.2,374.44 436.7,374.78 437.2,374.67 437.7,375.1 438.2,374.67 438.7,375.32 439.2,375.4 439.7,375.43 440.2,375.25 440.7,375.22 441.2,375.56 441.7,375.52 442.2,375.53 442.7,375.53 443.2,375.67 443.7,375.88 444.2,376.05 444.7,376.16 445.2,375.69 445.7,375.83 446.2,375.98 446.7,376.11 447.2,375.99 447.7,375.92 448.2,375.87 448.7,376.06 449.2,376.16 449.7,376.53 450.2,376.48 450.7,376.44 451.2,376.5 451.7,376.46 452.2,376.2 452.7,376.3 453.2,375.74 453.7,376.14 454.2,376.06 454.7,375.82 455.2,375.98 455.7,376.23 456.2,375.88 456.7,375.98 457.2,375.72 457.7,375.73 458.2,376.09 458.7,375.48 459.2,375.57 459.7,375.91 460.2,375.74 460.7,375.48 461.2,375.88 461.7,375.68 462.2,375.84 462.7,375.73 463.2,375.83 463.7,375.88 464.2,375.79 464.7,375.63 465.2,375.72 465.7,376.25 466.2,376.06 466.7,375.81 467.2,376.38 467.7,376 468.2,375.93 468.7,376.28 469.2,376.13 469.7,376.33 470.2,376.41 470.7,376.22 471.2,376.48 471.7,376.18 472.2,376.49 472.7,376.56 473.2,376.22 473.7,376.46 474.2,376.24 474.7,376.51 475.2,376.82 475.7,376.61 476.2,376.73 476.7,376.76 477.2,376.32 477.7,376.94 478.2,376.76 478.7,376.33 479.2,376.85 479.7,376.54 480.2,376.39 480.7,376.95 481.2,376.68 481.7,376.83 482.2,376.38 482.7,376.84 483.2,376.34 483.7,376.46 484.2,376.56 484.7,376.32 485.2,376.73 485.7,376.46 486.2,376.53 486.7,376.81 487.2,376.62 487.7,376.95 488.2,376.77 488.7,376.95 489.2,376.74 489.7,376.99 490.2,376.96 490.7,376.48 491.2,376.89 491.7,376.61 492.2,376.91 492.7,376.86 493.2,376.97 493.7,376.48 494.2,376.67 494.7,376.93 495.2,377.08 495.7,376.93 496.2,376.46 496.7,376.86 497.2,376.51 497.7,376.83 498.2,377.02 498.7,376.54 499.2,377.12 499.7,376.95 500.2,376.66 500.7,376.63 501.2,376.81 501.7,377.09 502.2,376.92 502.7,376.6 503.2,376.54 503.7,376.61 504.2,377.1 504.7,376.68 505,376.94" fill="none" stroke="#1f5a9a" stroke-width="1.5" stroke-linejoin="round"/>
<polyline points="421.6,350.4 422.1,361.19 422.6,364.28 423.1,366.25 423.6,368.31 424.1,369.55 424.6,370.89 425.1,372.15 425.6,373.35 426.1,373.94 426.6,375.11 427.1,375.94 427.6,376.96 428.1,377.99 428.6,378.83 429.1,379.34 429.6,380.33 430.1,381.56 430.6,382.39 431.1,383.14 431.6,384.04 432.1,384.71 432.6,385.82 433.1,386.3 433.6,387.18 434.1,387.63 434.6,387.88 435.1,388.51 435.6,388.93 436.1,389.71 436.6,389.96 437.1,390.07 437.6,390.49 438.1,390.93 438.6,391.32 439.1,391.69 439.6,391.92 440.1,392.2 440.6,392.32 441.1,392.89 441.6,393.05 442.1,393.15 442.6,393.63 443.1,394.13 443.6,393.9 444.1,394.17 444.6,394.65 445.1,394.66 445.6,394.86 446.1,395.18 446.6,395.26 447.1,395.6 447.6,395.78 448.1,396.18 448.6,396.39 449.1,396.1 449.6,396.55 450.1,396.84 450.6,397.08 451.1,397.21 451.6,397.32 452.1,397.5 452.6,397.54 453.1,397.67 453.6,398.09 454.1,398.3 454.6,398.49 455.1,398.52 455.6,398.48 456.1,398.87 456.6,399 457.1,399.03 457.6,399.24 458.1,399.24 458.6,399.48 459.1,399.54 459.6,399.5 460.1,399.77 460.6,399.9 461.1,400.35 461.6,400.23 462.1,400.29 462.6,400.35 463.1,400.47 463.6,400.64 464.1,400.65 464.6,400.7 465.1,401.24 465.6,401.14 466.1,401.25 466.6,401.41 467.1,401.39 467.6,401.42 468.1,401.47 468.6,401.69 469.1,401.79 469.6,402.09 470.1,402.09 470.6,402.38 471.1,402.16 471.6,402.54 472.1,402.46 472.6,402.29 473.1,402.41 473.6,402.7 474.1,402.97 474.6,402.73 475.1,403.01 475.6,402.91 476.1,403.2 476.6,402.87 477.1,403.14 477.6,403.42 478.1,403.17 478.6,403.23 479.1,403.17 479.6,403.3 480.1,403.42 480.6,403.7 481.1,403.51 481.6,403.67 482.1,403.63 482.6,403.89 483.1,404.08 483.6,404.03 484.1,403.86 484.6,404.18 485.1,404.35 485.6,404.23 486.1,404.02 486.6,404.44 487.1,404.52 487.6,404.31 488.1,404.26 488.6,404.33 489.1,404.56 489.6,404.77 490.1,404.7 490.6,404.89 491.1,404.58 491.6,404.69 492.1,404.94 492.6,404.94 493.1,404.86 493.6,405.04 494.1,404.91 494.6,404.81 495.1,405.03 495.6,404.89 496.1,405.22 496.6,405.11 497.1,405.23 497.6,405.32 498.1,405.18 498.6,405.32 499.1,405.13 499.6,405.63 500.1,405.48 500.6,405.73 501.1,405.3 501.6,405.61 502.1,405.7 502.6,405.54 503.1,405.46 503.6,405.53 504.1,405.56 504.6,405.9 505,405.59" fill="none" stroke="#c8102e" stroke-width="1.6" stroke-linejoin="round"/>
<text x="504.3" y="362.9" font-size="7.1" fill="#5e2384" text-anchor="end" stroke="#5e2384" stroke-width="0.1" textLength="11.5" lengthAdjust="spacingAndGlyphs">Rat</text>
<text x="504.3" y="373.5" font-size="7.1" fill="#3bb34a" text-anchor="end" stroke="#3bb34a" stroke-width="0.1" textLength="21.5" lengthAdjust="spacingAndGlyphs">Mouse</text>
<text x="504.3" y="384.3" font-size="7.1" fill="#1f5a9a" text-anchor="end" stroke="#1f5a9a" stroke-width="0.1" textLength="13.2" lengthAdjust="spacingAndGlyphs">Dog</text>
<text x="504.3" y="410.8" font-size="7.1" fill="#c8102e" text-anchor="end" stroke="#c8102e" stroke-width="0.1" textLength="21.3" lengthAdjust="spacingAndGlyphs">Human</text>
<rect x="0.5" y="0.5" width="519" height="423" fill="none" stroke="#000" stroke-width="1"/>
</svg>
</body></html>
